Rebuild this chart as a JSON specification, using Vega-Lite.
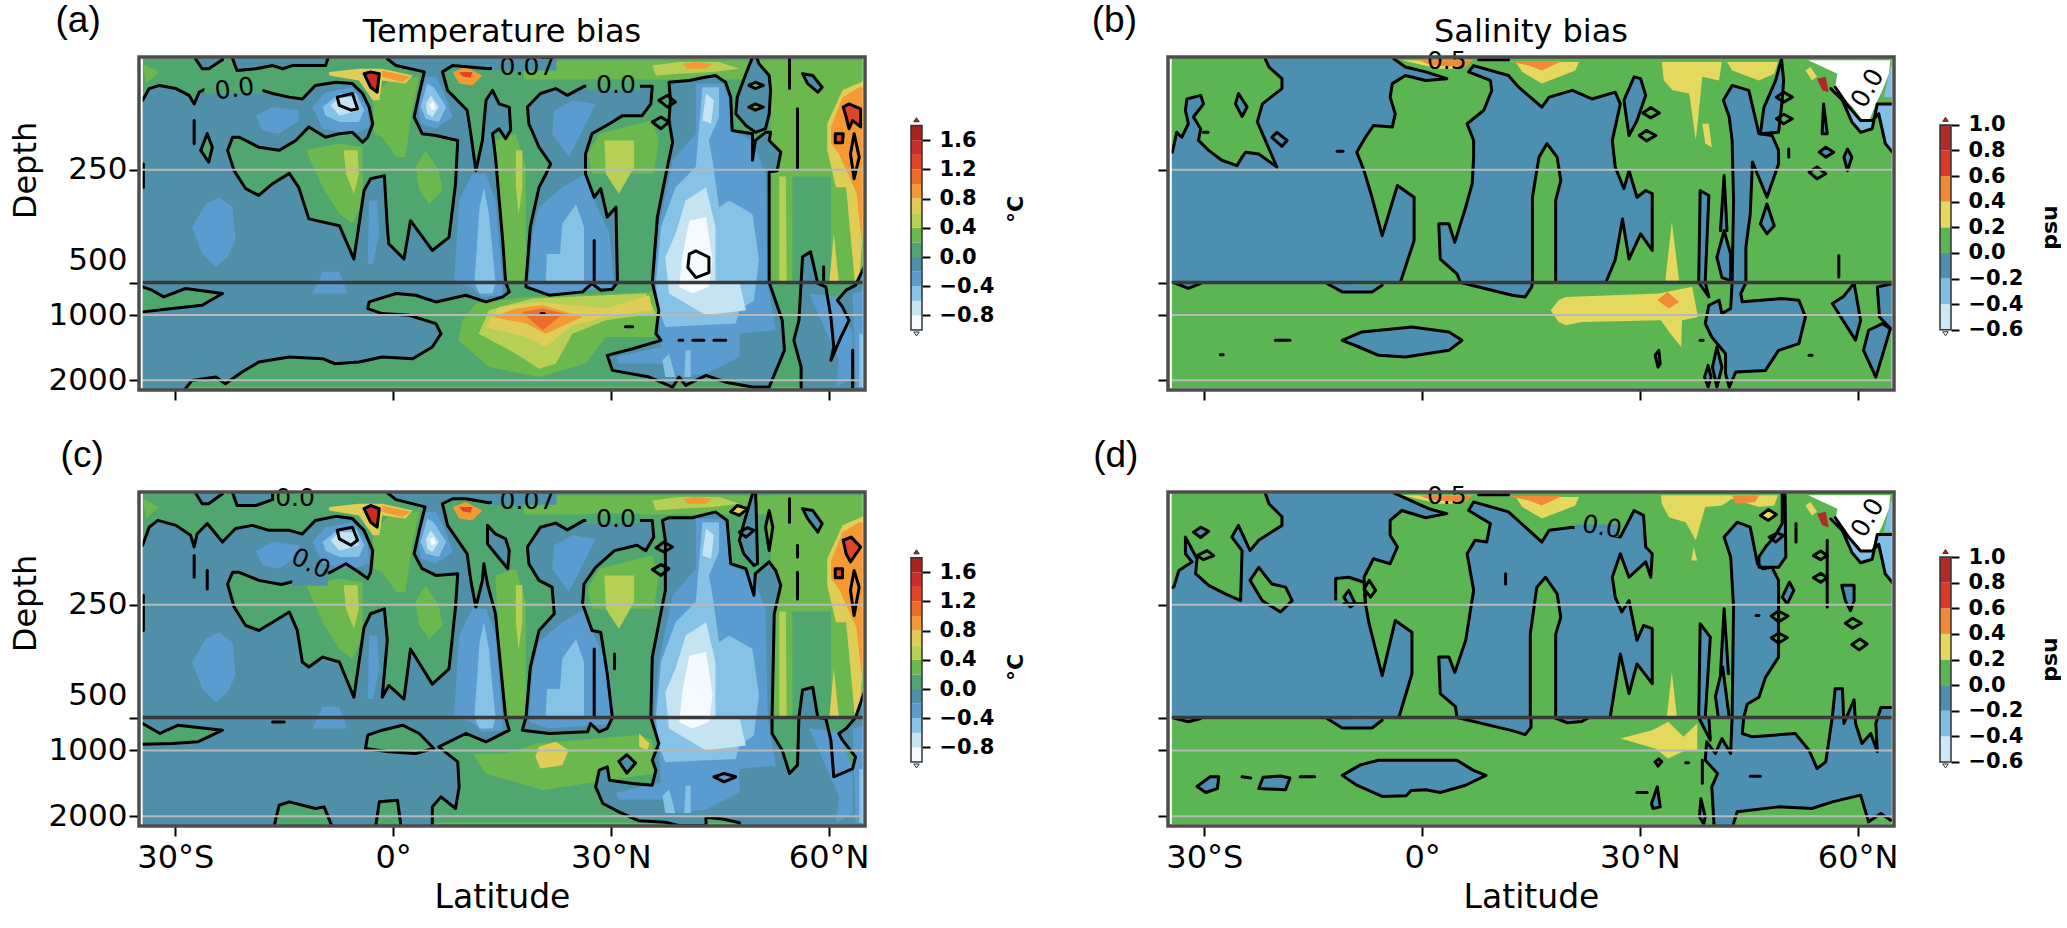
{"$schema":"https://vega.github.io/schema/vega-lite/v6.json","padding":{"left":9,"top":2,"right":0,"bottom":0},"background":"white","config":{"view":{"stroke":null},"font":"DejaVu Sans"},
"datasets":{
"bt":[{"x":-34.5,"x2":64.7,"y":3,"y2":2125,"v":0.1}],
"bs":[{"x":-34.5,"x2":64.7,"y":3,"y2":2125,"v":0.1},{"x":-34.5,"x2":64.7,"y":3,"y2":500,"v":-0.1}],
"w":[
{"g":1,"v":0.3,"x":-34.5,"y":15},{"g":1,"v":0.3,"x":-32.2,"y":33},{"g":1,"v":0.3,"x":-34,"y":59},
{"g":2,"v":0.3,"x":-2.8,"y":89},{"g":2,"v":0.3,"x":-0.6,"y":52},{"g":2,"v":0.3,"x":3.6,"y":44},{"g":2,"v":0.3,"x":2.7,"y":111},{"g":2,"v":0.3,"x":1.7,"y":222},{"g":2,"v":0.3,"x":0.4,"y":222},{"g":2,"v":0.3,"x":-1.5,"y":178},{"g":2,"v":0.3,"x":-2.6,"y":170},
{"g":3,"v":0.3,"x":-12,"y":207},{"g":3,"v":0.3,"x":-7.4,"y":192},{"g":3,"v":0.3,"x":-4.2,"y":200},{"g":3,"v":0.3,"x":-4.2,"y":318},{"g":3,"v":0.3,"x":-5.6,"y":370},{"g":3,"v":0.3,"x":-7.4,"y":348},{"g":3,"v":0.3,"x":-9.7,"y":289},
{"g":4,"v":0.5,"x":-6.8,"y":207},{"g":4,"v":0.5,"x":-4.9,"y":207},{"g":4,"v":0.5,"x":-4.7,"y":259},{"g":4,"v":0.5,"x":-5.4,"y":303},{"g":4,"v":0.5,"x":-6.5,"y":259},
{"g":5,"v":0.3,"x":3.1,"y":244},{"g":5,"v":0.3,"x":4.5,"y":207},{"g":5,"v":0.3,"x":6.3,"y":252},{"g":5,"v":0.3,"x":6.8,"y":296},{"g":5,"v":0.3,"x":5,"y":326},{"g":5,"v":0.3,"x":3.6,"y":296},
{"g":6,"v":0.7,"x":-8.8,"y":33},{"g":6,"v":0.7,"x":-4.7,"y":26},{"g":6,"v":0.7,"x":-1.5,"y":26},{"g":6,"v":0.7,"x":2.7,"y":41},{"g":6,"v":0.7,"x":1.7,"y":59},{"g":6,"v":0.7,"x":-1.5,"y":52},{"g":6,"v":0.7,"x":-1.9,"y":96},{"g":6,"v":0.7,"x":-2.8,"y":96},{"g":6,"v":0.7,"x":-4.7,"y":52},{"g":6,"v":0.7,"x":-8.8,"y":41},
{"g":7,"v":0.9,"x":-1.5,"y":30},{"g":7,"v":0.9,"x":2.4,"y":44},{"g":7,"v":0.9,"x":1.3,"y":56},{"g":7,"v":0.9,"x":-1.5,"y":44},
{"g":8,"v":0.9,"x":8.2,"y":33},{"g":8,"v":0.9,"x":10,"y":22},{"g":8,"v":0.9,"x":12.3,"y":41},{"g":8,"v":0.9,"x":10.9,"y":63},{"g":8,"v":0.9,"x":9.1,"y":59},
{"g":9,"v":1.3,"x":9.1,"y":33},{"g":9,"v":1.3,"x":10.9,"y":33},{"g":9,"v":1.3,"x":10.7,"y":46},{"g":9,"v":1.3,"x":9.6,"y":43},
{"g":10,"v":0.3,"x":14.1,"y":185},{"g":10,"v":0.3,"x":16.9,"y":170},{"g":10,"v":0.3,"x":18.3,"y":244},{"g":10,"v":0.3,"x":18.3,"y":499},{"g":10,"v":0.3,"x":15,"y":499},
{"g":11,"v":0.5,"x":16.9,"y":207},{"g":11,"v":0.5,"x":17.8,"y":207},{"g":11,"v":0.5,"x":17.8,"y":289},{"g":11,"v":0.5,"x":17.3,"y":348},{"g":11,"v":0.5,"x":16.9,"y":289},
{"g":12,"v":0.3,"x":26.8,"y":215},{"g":12,"v":0.3,"x":28.4,"y":170},{"g":12,"v":0.3,"x":35.7,"y":140},{"g":12,"v":0.3,"x":36.6,"y":185},{"g":12,"v":0.3,"x":35.9,"y":259},{"g":12,"v":0.3,"x":27.4,"y":259},
{"g":13,"v":0.5,"x":29.1,"y":185},{"g":13,"v":0.5,"x":33.2,"y":185},{"g":13,"v":0.5,"x":33.2,"y":244},{"g":13,"v":0.5,"x":31.1,"y":303},{"g":13,"v":0.5,"x":29.3,"y":259},
{"g":14,"v":0.3,"x":18,"y":8},{"g":14,"v":0.3,"x":65,"y":8},{"g":14,"v":0.3,"x":65,"y":50},{"g":14,"v":0.3,"x":18,"y":50},
{"g":15,"v":0.5,"x":35.7,"y":19},{"g":15,"v":0.5,"x":39.4,"y":11},{"g":15,"v":0.5,"x":44.9,"y":11},{"g":15,"v":0.5,"x":47.7,"y":26},{"g":15,"v":0.5,"x":44,"y":33},{"g":15,"v":0.5,"x":39.4,"y":37},{"g":15,"v":0.5,"x":36.2,"y":41},
{"g":16,"v":0.9,"x":39.9,"y":15},{"g":16,"v":0.9,"x":41.7,"y":11},{"g":16,"v":0.9,"x":44,"y":15},{"g":16,"v":0.9,"x":43.1,"y":26},{"g":16,"v":0.9,"x":40.6,"y":26},
{"g":17,"v":0.3,"x":52,"y":8},{"g":17,"v":0.3,"x":65,"y":8},{"g":17,"v":0.3,"x":65,"y":499},{"g":17,"v":0.3,"x":52,"y":499},
{"g":18,"v":0.1,"x":55,"y":265},{"g":18,"v":0.1,"x":60.3,"y":265},{"g":18,"v":0.1,"x":60.3,"y":499},{"g":18,"v":0.1,"x":55,"y":499},
{"g":19,"v":0.5,"x":53.2,"y":265},{"g":19,"v":0.5,"x":54.1,"y":265},{"g":19,"v":0.5,"x":54.2,"y":499},{"g":19,"v":0.5,"x":53.2,"y":499},
{"g":20,"v":0.7,"x":60.7,"y":392},{"g":20,"v":0.7,"x":61.4,"y":499},{"g":20,"v":0.7,"x":60.1,"y":499},
{"g":21,"v":0.7,"x":59.8,"y":148},{"g":21,"v":0.7,"x":61.9,"y":74},{"g":21,"v":0.7,"x":65,"y":52},{"g":21,"v":0.7,"x":65,"y":318},{"g":21,"v":0.7,"x":64.2,"y":499},{"g":21,"v":0.7,"x":63.6,"y":499},{"g":21,"v":0.7,"x":62.4,"y":289},{"g":21,"v":0.7,"x":61,"y":289},{"g":21,"v":0.7,"x":59.8,"y":207},
{"g":22,"v":0.9,"x":60.3,"y":155},{"g":22,"v":0.9,"x":61.9,"y":89},{"g":22,"v":0.9,"x":64.2,"y":67},{"g":22,"v":0.9,"x":65,"y":67},{"g":22,"v":0.9,"x":65,"y":244},{"g":22,"v":0.9,"x":64.6,"y":414},{"g":22,"v":0.9,"x":63.8,"y":300},{"g":22,"v":0.9,"x":61.4,"y":215},{"g":22,"v":0.9,"x":60.3,"y":192},
{"g":23,"v":0.3,"x":-35,"y":2100},{"g":23,"v":0.3,"x":65,"y":2100},{"g":23,"v":0.3,"x":65,"y":2140},{"g":23,"v":0.3,"x":-35,"y":2140}
],
"ua":[
{"g":1,"v":0.3,"x":9.5,"y":1080},{"g":1,"v":0.3,"x":11.4,"y":823},{"g":1,"v":0.3,"x":18.3,"y":721},{"g":1,"v":0.3,"x":35.7,"y":644},{"g":1,"v":0.3,"x":36.6,"y":977},{"g":1,"v":0.3,"x":35.9,"y":1336},{"g":1,"v":0.3,"x":29.3,"y":1336},{"g":1,"v":0.3,"x":26.5,"y":1747},{"g":1,"v":0.3,"x":20.1,"y":1952},{"g":1,"v":0.3,"x":13.2,"y":1798},{"g":1,"v":0.3,"x":9,"y":1388},
{"g":2,"v":0.5,"x":11.8,"y":1285},{"g":2,"v":0.5,"x":13.2,"y":926},{"g":2,"v":0.5,"x":19.2,"y":746},{"g":2,"v":0.5,"x":34.8,"y":669},{"g":2,"v":0.5,"x":36.2,"y":977},{"g":2,"v":0.5,"x":29.3,"y":1080},{"g":2,"v":0.5,"x":24.7,"y":1285},{"g":2,"v":0.5,"x":22.4,"y":1747},{"g":2,"v":0.5,"x":20.1,"y":1824},{"g":2,"v":0.5,"x":16.9,"y":1593},
{"g":3,"v":0.7,"x":12.7,"y":1182},{"g":3,"v":0.7,"x":14.6,"y":875},{"g":3,"v":0.7,"x":20.1,"y":798},{"g":3,"v":0.7,"x":29.3,"y":900},{"g":3,"v":0.7,"x":35.3,"y":695},{"g":3,"v":0.7,"x":35.7,"y":926},{"g":3,"v":0.7,"x":29.3,"y":1028},{"g":3,"v":0.7,"x":24.7,"y":1157},{"g":3,"v":0.7,"x":21,"y":1490},{"g":3,"v":0.7,"x":18.3,"y":1336},
{"g":4,"v":0.9,"x":13.7,"y":1028},{"g":4,"v":0.9,"x":16.9,"y":900},{"g":4,"v":0.9,"x":20.6,"y":849},{"g":4,"v":0.9,"x":26.1,"y":1028},{"g":4,"v":0.9,"x":21,"y":1285},{"g":4,"v":0.9,"x":18.3,"y":1131},
{"g":5,"v":1.1,"x":17.8,"y":951},{"g":5,"v":1.1,"x":20.6,"y":900},{"g":5,"v":1.1,"x":23.5,"y":977},{"g":5,"v":1.1,"x":20.6,"y":1233},{"g":5,"v":1.1,"x":19,"y":1080}
],
"uc":[
{"g":1,"v":0.3,"x":15.5,"y":1047},{"g":1,"v":0.3,"x":19.6,"y":895},{"g":1,"v":0.3,"x":33.9,"y":768},{"g":1,"v":0.3,"x":35.7,"y":844},{"g":1,"v":0.3,"x":35.9,"y":1352},{"g":1,"v":0.3,"x":29.8,"y":1453},{"g":1,"v":0.3,"x":26.5,"y":1504},{"g":1,"v":0.3,"x":20.6,"y":1605},{"g":1,"v":0.3,"x":12.7,"y":1352},{"g":1,"v":0.3,"x":11,"y":1047},
{"g":2,"v":0.7,"x":20.1,"y":946},{"g":2,"v":0.7,"x":22.4,"y":870},{"g":2,"v":0.7,"x":24.2,"y":997},{"g":2,"v":0.7,"x":23.3,"y":1225},{"g":2,"v":0.7,"x":20.3,"y":1276},{"g":2,"v":0.7,"x":19.6,"y":1098},
{"g":3,"v":0.7,"x":33.9,"y":743},{"g":3,"v":0.7,"x":35.3,"y":895},{"g":3,"v":0.7,"x":35,"y":997},{"g":3,"v":0.7,"x":33.9,"y":946}
],
"ta":[
{"g":1,"v":-0.1,"x":-37,"y":96},{"g":1,"v":-0.1,"x":-34.5,"y":96},{"g":1,"v":-0.1,"x":-33.6,"y":70},{"g":1,"v":-0.1,"x":-32.2,"y":63},{"g":1,"v":-0.1,"x":-29.9,"y":70},{"g":1,"v":-0.1,"x":-28.1,"y":85},{"g":1,"v":-0.1,"x":-27.4,"y":104},{"g":1,"v":-0.1,"x":-26.7,"y":78},{"g":1,"v":-0.1,"x":-25.4,"y":67},{"g":1,"v":-0.1,"x":-18,"y":74},{"g":1,"v":-0.1,"x":-16.6,"y":81},{"g":1,"v":-0.1,"x":-14.3,"y":89},{"g":1,"v":-0.1,"x":-12.5,"y":93},{"g":1,"v":-0.1,"x":-10.7,"y":63},{"g":1,"v":-0.1,"x":-7.9,"y":56},{"g":1,"v":-0.1,"x":-5.6,"y":59},{"g":1,"v":-0.1,"x":-4.2,"y":81},{"g":1,"v":-0.1,"x":-3.3,"y":111},{"g":1,"v":-0.1,"x":-2.8,"y":148},{"g":1,"v":-0.1,"x":-3.5,"y":178},{"g":1,"v":-0.1,"x":-4.2,"y":189},{"g":1,"v":-0.1,"x":-5.6,"y":167},{"g":1,"v":-0.1,"x":-7.4,"y":170},{"g":1,"v":-0.1,"x":-9.3,"y":178},{"g":1,"v":-0.1,"x":-11.6,"y":155},{"g":1,"v":-0.1,"x":-13.4,"y":185},{"g":1,"v":-0.1,"x":-15.7,"y":207},{"g":1,"v":-0.1,"x":-18.5,"y":200},{"g":1,"v":-0.1,"x":-21.2,"y":178},{"g":1,"v":-0.1,"x":-22.1,"y":178},{"g":1,"v":-0.1,"x":-22.8,"y":207},{"g":1,"v":-0.1,"x":-21.9,"y":252},{"g":1,"v":-0.1,"x":-20.3,"y":292},{"g":1,"v":-0.1,"x":-18.5,"y":307},{"g":1,"v":-0.1,"x":-16.6,"y":281},{"g":1,"v":-0.1,"x":-14.3,"y":258},{"g":1,"v":-0.1,"x":-13,"y":289},{"g":1,"v":-0.1,"x":-11.6,"y":359},{"g":1,"v":-0.1,"x":-7.4,"y":374},{"g":1,"v":-0.1,"x":-5.4,"y":448},{"g":1,"v":-0.1,"x":-4,"y":296},{"g":1,"v":-0.1,"x":-3.1,"y":270},{"g":1,"v":-0.1,"x":-1.2,"y":263},{"g":1,"v":-0.1,"x":-0.8,"y":377},{"g":1,"v":-0.1,"x":-0.6,"y":414},{"g":1,"v":-0.1,"x":1.5,"y":448},{"g":1,"v":-0.1,"x":2.4,"y":363},{"g":1,"v":-0.1,"x":5.4,"y":429},{"g":1,"v":-0.1,"x":7.7,"y":400},{"g":1,"v":-0.1,"x":8.6,"y":281},{"g":1,"v":-0.1,"x":8.9,"y":185},{"g":1,"v":-0.1,"x":5.9,"y":174},{"g":1,"v":-0.1,"x":4,"y":170},{"g":1,"v":-0.1,"x":2.9,"y":133},{"g":1,"v":-0.1,"x":3.6,"y":81},{"g":1,"v":-0.1,"x":4.3,"y":33},{"g":1,"v":-0.1,"x":0.4,"y":19},{"g":1,"v":-0.1,"x":-0.8,"y":4},{"g":1,"v":-0.1,"x":-0.8,"y":-15},{"g":1,"v":-0.1,"x":22,"y":-15},{"g":1,"v":-0.1,"x":22,"y":4},{"g":1,"v":-0.1,"x":13.2,"y":26},{"g":1,"v":-0.1,"x":8.2,"y":19},{"g":1,"v":-0.1,"x":6.8,"y":33},{"g":1,"v":-0.1,"x":7.5,"y":74},{"g":1,"v":-0.1,"x":10.2,"y":118},{"g":1,"v":-0.1,"x":10.7,"y":170},{"g":1,"v":-0.1,"x":11.4,"y":252},{"g":1,"v":-0.1,"x":12.3,"y":185},{"g":1,"v":-0.1,"x":12.8,"y":96},{"g":1,"v":-0.1,"x":13.7,"y":74},{"g":1,"v":-0.1,"x":14.6,"y":104},{"g":1,"v":-0.1,"x":16,"y":111},{"g":1,"v":-0.1,"x":16.2,"y":162},{"g":1,"v":-0.1,"x":15.5,"y":181},{"g":1,"v":-0.1,"x":14.6,"y":159},{"g":1,"v":-0.1,"x":13.7,"y":170},{"g":1,"v":-0.1,"x":14.1,"y":222},{"g":1,"v":-0.1,"x":15.1,"y":407},{"g":1,"v":-0.1,"x":15.5,"y":499},{"g":1,"v":-0.1,"x":16,"y":644},{"g":1,"v":-0.1,"x":15.1,"y":721},{"g":1,"v":-0.1,"x":12.8,"y":798},{"g":1,"v":-0.1,"x":10,"y":695},{"g":1,"v":-0.1,"x":5.9,"y":798},{"g":1,"v":-0.1,"x":3.1,"y":695},{"g":1,"v":-0.1,"x":0.4,"y":669},{"g":1,"v":-0.1,"x":-3.3,"y":798},{"g":1,"v":-0.1,"x":-3.5,"y":900},{"g":1,"v":-0.1,"x":-1.5,"y":977},{"g":1,"v":-0.1,"x":2.2,"y":1003},{"g":1,"v":-0.1,"x":5.9,"y":1131},{"g":1,"v":-0.1,"x":6.6,"y":1285},{"g":1,"v":-0.1,"x":5.4,"y":1490},{"g":1,"v":-0.1,"x":2.7,"y":1670},{"g":1,"v":-0.1,"x":-1.5,"y":1644},{"g":1,"v":-0.1,"x":-4.7,"y":1721},{"g":1,"v":-0.1,"x":-8,"y":1747},{"g":1,"v":-0.1,"x":-9.7,"y":1670},{"g":1,"v":-0.1,"x":-14.3,"y":1644},{"g":1,"v":-0.1,"x":-18.5,"y":1721},{"g":1,"v":-0.1,"x":-20.8,"y":1875},{"g":1,"v":-0.1,"x":-23.1,"y":2054},{"g":1,"v":-0.1,"x":-24.4,"y":1952},{"g":1,"v":-0.1,"x":-27.7,"y":2003},{"g":1,"v":-0.1,"x":-28.6,"y":2131},{"g":1,"v":-0.1,"x":-28.6,"y":2300},{"g":1,"v":-0.1,"x":-37,"y":2300},
{"g":2,"v":0.1,"x":-37,"y":567},{"g":2,"v":0.1,"x":-34.5,"y":567},{"g":2,"v":0.1,"x":-33.2,"y":618},{"g":2,"v":0.1,"x":-31.6,"y":721},{"g":2,"v":0.1,"x":-28.6,"y":592},{"g":2,"v":0.1,"x":-23.5,"y":669},{"g":2,"v":0.1,"x":-26.3,"y":849},{"g":2,"v":0.1,"x":-30.4,"y":900},{"g":2,"v":0.1,"x":-34.5,"y":951},{"g":2,"v":0.1,"x":-37,"y":951},
{"g":3,"v":-0.1,"x":-27.2,"y":-15},{"g":3,"v":-0.1,"x":-27.2,"y":4},{"g":3,"v":-0.1,"x":-26.3,"y":26},{"g":3,"v":-0.1,"x":-25.4,"y":26},{"g":3,"v":-0.1,"x":-23.5,"y":6},{"g":3,"v":-0.1,"x":-23.5,"y":-15},
{"g":4,"v":-0.1,"x":-22.1,"y":-15},{"g":4,"v":-0.1,"x":-22.1,"y":4},{"g":4,"v":-0.1,"x":-21.5,"y":30},{"g":4,"v":-0.1,"x":-18.9,"y":26},{"g":4,"v":-0.1,"x":-16.6,"y":19},{"g":4,"v":-0.1,"x":-15.2,"y":26},{"g":4,"v":-0.1,"x":-13.9,"y":19},{"g":4,"v":-0.1,"x":-9.3,"y":19},{"g":4,"v":-0.1,"x":-9,"y":4},{"g":4,"v":-0.1,"x":-9,"y":-15},
{"g":5,"v":0.1,"x":-25.6,"y":170},{"g":5,"v":0.1,"x":-26.5,"y":207},{"g":5,"v":0.1,"x":-25.4,"y":233},{"g":5,"v":0.1,"x":-24.9,"y":200},{"g":5,"v":0.1,"x":-25.6,"y":170},
{"g":6,"v":-0.1,"x":-27.4,"y":141},{"g":6,"v":-0.1,"x":-27.4,"y":192},
{"g":7,"v":-0.1,"x":-34.4,"y":237},{"g":7,"v":-0.1,"x":-34.4,"y":289},
{"g":8,"v":1.5,"x":-4,"y":37},{"g":8,"v":1.5,"x":-3.1,"y":33},{"g":8,"v":1.5,"x":-1.9,"y":37},{"g":8,"v":1.5,"x":-2.2,"y":78},{"g":8,"v":1.5,"x":-3.1,"y":67},{"g":8,"v":1.5,"x":-4,"y":37},
{"g":9,"v":-0.1,"x":18.5,"y":111},{"g":9,"v":-0.1,"x":20.3,"y":81},{"g":9,"v":-0.1,"x":22.4,"y":70},{"g":9,"v":-0.1,"x":24,"y":85},{"g":9,"v":-0.1,"x":26.3,"y":65},{"g":9,"v":-0.1,"x":30.2,"y":65},{"g":9,"v":-0.1,"x":35.7,"y":65},{"g":9,"v":-0.1,"x":35.5,"y":104},{"g":9,"v":-0.1,"x":34.3,"y":130},{"g":9,"v":-0.1,"x":31.6,"y":130},{"g":9,"v":-0.1,"x":29.8,"y":148},{"g":9,"v":-0.1,"x":27.4,"y":170},{"g":9,"v":-0.1,"x":26.5,"y":215},{"g":9,"v":-0.1,"x":26.5,"y":259},{"g":9,"v":-0.1,"x":27.7,"y":311},{"g":9,"v":-0.1,"x":28.6,"y":292},{"g":9,"v":-0.1,"x":29.5,"y":355},{"g":9,"v":-0.1,"x":30.7,"y":333},{"g":9,"v":-0.1,"x":30.9,"y":499},{"g":9,"v":-0.1,"x":30.2,"y":603},{"g":9,"v":-0.1,"x":28.6,"y":618},{"g":9,"v":-0.1,"x":27.4,"y":515},{"g":9,"v":-0.1,"x":26.1,"y":644},{"g":9,"v":-0.1,"x":21.5,"y":695},{"g":9,"v":-0.1,"x":18.3,"y":567},{"g":9,"v":-0.1,"x":18.3,"y":499},{"g":9,"v":-0.1,"x":18.9,"y":377},{"g":9,"v":-0.1,"x":20.1,"y":289},{"g":9,"v":-0.1,"x":21.2,"y":255},{"g":9,"v":-0.1,"x":21.7,"y":237},{"g":9,"v":-0.1,"x":20.1,"y":200},{"g":9,"v":-0.1,"x":18.7,"y":148},{"g":9,"v":-0.1,"x":18.5,"y":111},
{"g":10,"v":-0.1,"x":27.7,"y":407},{"g":10,"v":-0.1,"x":27.7,"y":499},
{"g":11,"v":-0.1,"x":38,"y":56},{"g":11,"v":-0.1,"x":40.8,"y":52},{"g":11,"v":-0.1,"x":42.6,"y":46},{"g":11,"v":-0.1,"x":44.4,"y":41},{"g":11,"v":-0.1,"x":45.8,"y":56},{"g":11,"v":-0.1,"x":46.5,"y":89},{"g":11,"v":-0.1,"x":46.7,"y":163},{"g":11,"v":-0.1,"x":49.5,"y":170},{"g":11,"v":-0.1,"x":49.5,"y":229},{"g":11,"v":-0.1,"x":49.9,"y":185},{"g":11,"v":-0.1,"x":51.3,"y":167},{"g":11,"v":-0.1,"x":52,"y":167},{"g":11,"v":-0.1,"x":51.8,"y":185},{"g":11,"v":-0.1,"x":53.4,"y":211},{"g":11,"v":-0.1,"x":52.9,"y":252},{"g":11,"v":-0.1,"x":51.8,"y":255},{"g":11,"v":-0.1,"x":51.8,"y":392},{"g":11,"v":-0.1,"x":51.8,"y":500},{"g":11,"v":-0.1,"x":53.6,"y":1081},{"g":11,"v":-0.1,"x":53.9,"y":1541},{"g":11,"v":-0.1,"x":51.8,"y":2105},{"g":11,"v":-0.1,"x":49.5,"y":2105},{"g":11,"v":-0.1,"x":45.8,"y":2030},{"g":11,"v":-0.1,"x":43.1,"y":1926},{"g":11,"v":-0.1,"x":40.3,"y":2080},{"g":11,"v":-0.1,"x":39.4,"y":1952},{"g":11,"v":-0.1,"x":38.5,"y":2105},{"g":11,"v":-0.1,"x":35.3,"y":1952},{"g":11,"v":-0.1,"x":30.2,"y":1849},{"g":11,"v":-0.1,"x":29.5,"y":1618},{"g":11,"v":-0.1,"x":33,"y":1516},{"g":11,"v":-0.1,"x":36.9,"y":1388},{"g":11,"v":-0.1,"x":36.2,"y":1285},{"g":11,"v":-0.1,"x":36.6,"y":926},{"g":11,"v":-0.1,"x":35.7,"y":500},{"g":11,"v":-0.1,"x":36.4,"y":355},{"g":11,"v":-0.1,"x":37.5,"y":266},{"g":11,"v":-0.1,"x":38.5,"y":189},{"g":11,"v":-0.1,"x":38,"y":140},{"g":11,"v":-0.1,"x":38.2,"y":96},{"g":11,"v":-0.1,"x":38,"y":56},
{"g":12,"v":-0.1,"x":49.7,"y":-7},{"g":12,"v":-0.1,"x":48.6,"y":37},{"g":12,"v":-0.1,"x":47.4,"y":89},{"g":12,"v":-0.1,"x":47.2,"y":126},{"g":12,"v":-0.1,"x":48.6,"y":152},{"g":12,"v":-0.1,"x":49.9,"y":167},{"g":12,"v":-0.1,"x":51.3,"y":159},{"g":12,"v":-0.1,"x":51.8,"y":126},{"g":12,"v":-0.1,"x":52,"y":74},{"g":12,"v":-0.1,"x":51.8,"y":41},{"g":12,"v":-0.1,"x":50.4,"y":15},{"g":12,"v":-0.1,"x":49.9,"y":-7},
{"g":13,"v":0.3,"x":49,"y":63},{"g":13,"v":0.3,"x":49.9,"y":56},{"g":13,"v":0.3,"x":51,"y":63},{"g":13,"v":0.3,"x":49.9,"y":70},{"g":13,"v":0.3,"x":49,"y":63},
{"g":14,"v":0.3,"x":49,"y":111},{"g":14,"v":0.3,"x":49.9,"y":104},{"g":14,"v":0.3,"x":51,"y":111},{"g":14,"v":0.3,"x":49.9,"y":118},{"g":14,"v":0.3,"x":49,"y":111},
{"g":15,"v":0.3,"x":54.6,"y":4},{"g":15,"v":0.3,"x":54.6,"y":70},
{"g":16,"v":0.3,"x":55.7,"y":115},{"g":16,"v":0.3,"x":55.7,"y":248},
{"g":17,"v":-0.1,"x":56.4,"y":37},{"g":17,"v":-0.1,"x":57.8,"y":41},{"g":17,"v":-0.1,"x":59.1,"y":67},{"g":17,"v":-0.1,"x":58.5,"y":78},{"g":17,"v":-0.1,"x":57.1,"y":59},{"g":17,"v":-0.1,"x":56.4,"y":37},
{"g":18,"v":0.1,"x":36.6,"y":96},{"g":18,"v":0.1,"x":37.8,"y":85},{"g":18,"v":0.1,"x":38.9,"y":100},{"g":18,"v":0.1,"x":37.8,"y":111},{"g":18,"v":0.1,"x":36.6,"y":96},
{"g":19,"v":0.1,"x":35.7,"y":144},{"g":19,"v":0.1,"x":36.9,"y":133},{"g":19,"v":0.1,"x":38,"y":144},{"g":19,"v":0.1,"x":36.9,"y":159},{"g":19,"v":0.1,"x":35.7,"y":144},
{"g":20,"v":-0.1,"x":56.2,"y":2180},{"g":20,"v":-0.1,"x":56.2,"y":1798},{"g":20,"v":-0.1,"x":55.2,"y":1388},{"g":20,"v":-0.1,"x":55.9,"y":1080},{"g":20,"v":-0.1,"x":56.2,"y":499},{"g":20,"v":-0.1,"x":56.4,"y":443},{"g":20,"v":-0.1,"x":57.5,"y":432},{"g":20,"v":-0.1,"x":58.5,"y":515},{"g":20,"v":-0.1,"x":59.6,"y":567},{"g":20,"v":-0.1,"x":60.3,"y":1028},{"g":20,"v":-0.1,"x":60.7,"y":1490},{"g":20,"v":-0.1,"x":60.3,"y":1695},{"g":20,"v":-0.1,"x":61.7,"y":1336},{"g":20,"v":-0.1,"x":62.8,"y":1080},{"g":20,"v":-0.1,"x":61.9,"y":875},{"g":20,"v":-0.1,"x":61.2,"y":772},{"g":20,"v":-0.1,"x":62.4,"y":618},{"g":20,"v":-0.1,"x":63.7,"y":541},{"g":20,"v":-0.1,"x":64.9,"y":465},{"g":20,"v":-0.1,"x":65.8,"y":465},{"g":20,"v":-0.1,"x":65.8,"y":2180},
{"g":21,"v":0.1,"x":59.3,"y":465},{"g":21,"v":0.1,"x":59.3,"y":500},
{"g":22,"v":-0.3,"x":63.3,"y":1541},{"g":22,"v":-0.3,"x":63.3,"y":2105},
{"g":23,"v":1.3,"x":62,"y":111},{"g":23,"v":1.3,"x":62.8,"y":104},{"g":23,"v":1.3,"x":64.4,"y":115},{"g":23,"v":1.3,"x":64.4,"y":155},{"g":23,"v":1.3,"x":63.3,"y":141},{"g":23,"v":1.3,"x":62.8,"y":159},{"g":23,"v":1.3,"x":62.4,"y":133},{"g":23,"v":1.3,"x":62,"y":111},
{"g":24,"v":0.9,"x":63.5,"y":170},{"g":24,"v":0.9,"x":63,"y":215},{"g":24,"v":0.9,"x":63.5,"y":270},{"g":24,"v":0.9,"x":64.2,"y":222},{"g":24,"v":0.9,"x":63.5,"y":170},
{"g":25,"v":1.3,"x":60.9,"y":170},{"g":25,"v":1.3,"x":62,"y":170},{"g":25,"v":1.3,"x":61.9,"y":190},{"g":25,"v":1.3,"x":60.9,"y":190},{"g":25,"v":1.3,"x":60.9,"y":170},
{"g":26,"v":0.1,"x":39.4,"y":1385},{"g":26,"v":0.1,"x":39.9,"y":1385},
{"g":27,"v":0.1,"x":41.3,"y":1385},{"g":27,"v":0.1,"x":42.8,"y":1385},
{"g":28,"v":0.1,"x":44.2,"y":1385},{"g":28,"v":0.1,"x":45.8,"y":1385},
{"g":29,"v":1.1,"x":20.4,"y":977},{"g":29,"v":1.1,"x":20.8,"y":977},
{"g":30,"v":0.1,"x":32,"y":1180},{"g":30,"v":0.1,"x":33,"y":1180},
{"g":31,"v":-0.9,"x":-7.7,"y":89},{"g":31,"v":-0.9,"x":-5.6,"y":81},{"g":31,"v":-0.9,"x":-4.9,"y":115},{"g":31,"v":-0.9,"x":-5.8,"y":118},{"g":31,"v":-0.9,"x":-7.4,"y":107},{"g":31,"v":-0.9,"x":-7.7,"y":89},
{"g":32,"v":-0.9,"x":40.8,"y":437},{"g":32,"v":-0.9,"x":41.7,"y":430},{"g":32,"v":-0.9,"x":43.5,"y":444},{"g":32,"v":-0.9,"x":43.5,"y":478},{"g":32,"v":-0.9,"x":41.7,"y":489},{"g":32,"v":-0.9,"x":40.6,"y":467},{"g":32,"v":-0.9,"x":40.8,"y":437}
],
"tc":[
{"g":1,"v":-0.1,"x":-37,"y":118},{"g":1,"v":-0.1,"x":-34.5,"y":118},{"g":1,"v":-0.1,"x":-33.6,"y":78},{"g":1,"v":-0.1,"x":-32.4,"y":63},{"g":1,"v":-0.1,"x":-29.9,"y":74},{"g":1,"v":-0.1,"x":-27.9,"y":96},{"g":1,"v":-0.1,"x":-27.4,"y":122},{"g":1,"v":-0.1,"x":-27,"y":93},{"g":1,"v":-0.1,"x":-25.6,"y":70},{"g":1,"v":-0.1,"x":-23.5,"y":111},{"g":1,"v":-0.1,"x":-21.7,"y":81},{"g":1,"v":-0.1,"x":-19.4,"y":74},{"g":1,"v":-0.1,"x":-17.1,"y":85},{"g":1,"v":-0.1,"x":-14.3,"y":85},{"g":1,"v":-0.1,"x":-12.5,"y":93},{"g":1,"v":-0.1,"x":-10.7,"y":63},{"g":1,"v":-0.1,"x":-7.9,"y":54},{"g":1,"v":-0.1,"x":-5.6,"y":59},{"g":1,"v":-0.1,"x":-4,"y":85},{"g":1,"v":-0.1,"x":-2.8,"y":130},{"g":1,"v":-0.1,"x":-3.1,"y":178},{"g":1,"v":-0.1,"x":-3.5,"y":192},{"g":1,"v":-0.1,"x":-4.7,"y":178},{"g":1,"v":-0.1,"x":-6.5,"y":159},{"g":1,"v":-0.1,"x":-8.6,"y":178},{"g":1,"v":-0.1,"x":-15.4,"y":205},{"g":1,"v":-0.1,"x":-18.5,"y":196},{"g":1,"v":-0.1,"x":-21.2,"y":178},{"g":1,"v":-0.1,"x":-22.1,"y":178},{"g":1,"v":-0.1,"x":-22.8,"y":204},{"g":1,"v":-0.1,"x":-21.9,"y":255},{"g":1,"v":-0.1,"x":-20.3,"y":296},{"g":1,"v":-0.1,"x":-18.5,"y":307},{"g":1,"v":-0.1,"x":-16.2,"y":285},{"g":1,"v":-0.1,"x":-14.3,"y":266},{"g":1,"v":-0.1,"x":-13.2,"y":307},{"g":1,"v":-0.1,"x":-12.5,"y":377},{"g":1,"v":-0.1,"x":-11.6,"y":388},{"g":1,"v":-0.1,"x":-9.7,"y":366},{"g":1,"v":-0.1,"x":-7.4,"y":377},{"g":1,"v":-0.1,"x":-5.4,"y":455},{"g":1,"v":-0.1,"x":-4,"y":300},{"g":1,"v":-0.1,"x":-3.1,"y":270},{"g":1,"v":-0.1,"x":-1.2,"y":259},{"g":1,"v":-0.1,"x":-0.8,"y":329},{"g":1,"v":-0.1,"x":-1.5,"y":455},{"g":1,"v":-0.1,"x":-0.6,"y":429},{"g":1,"v":-0.1,"x":1.5,"y":459},{"g":1,"v":-0.1,"x":2.4,"y":348},{"g":1,"v":-0.1,"x":5.4,"y":426},{"g":1,"v":-0.1,"x":7.7,"y":392},{"g":1,"v":-0.1,"x":8.6,"y":255},{"g":1,"v":-0.1,"x":8.9,"y":181},{"g":1,"v":-0.1,"x":5.9,"y":185},{"g":1,"v":-0.1,"x":4,"y":170},{"g":1,"v":-0.1,"x":2.9,"y":137},{"g":1,"v":-0.1,"x":3.6,"y":85},{"g":1,"v":-0.1,"x":4.4,"y":33},{"g":1,"v":-0.1,"x":0.4,"y":17},{"g":1,"v":-0.1,"x":-0.8,"y":2},{"g":1,"v":-0.1,"x":-0.8,"y":-15},{"g":1,"v":-0.1,"x":22,"y":-15},{"g":1,"v":-0.1,"x":22,"y":4},{"g":1,"v":-0.1,"x":13.2,"y":24},{"g":1,"v":-0.1,"x":10,"y":15},{"g":1,"v":-0.1,"x":8.2,"y":15},{"g":1,"v":-0.1,"x":6.8,"y":26},{"g":1,"v":-0.1,"x":7.5,"y":74},{"g":1,"v":-0.1,"x":10.2,"y":137},{"g":1,"v":-0.1,"x":10.7,"y":196},{"g":1,"v":-0.1,"x":11.4,"y":255},{"g":1,"v":-0.1,"x":12.3,"y":196},{"g":1,"v":-0.1,"x":12.5,"y":159},{"g":1,"v":-0.1,"x":13,"y":204},{"g":1,"v":-0.1,"x":14.1,"y":270},{"g":1,"v":-0.1,"x":15.5,"y":500},{"g":1,"v":-0.1,"x":16,"y":693},{"g":1,"v":-0.1,"x":12.8,"y":870},{"g":1,"v":-0.1,"x":10,"y":743},{"g":1,"v":-0.1,"x":6.3,"y":946},{"g":1,"v":-0.1,"x":8.9,"y":1174},{"g":1,"v":-0.1,"x":9.1,"y":1554},{"g":1,"v":-0.1,"x":8.6,"y":1884},{"g":1,"v":-0.1,"x":6.6,"y":1706},{"g":1,"v":-0.1,"x":5.4,"y":1859},{"g":1,"v":-0.1,"x":5.4,"y":2163},{"g":1,"v":-0.1,"x":5.4,"y":2300},{"g":1,"v":-0.1,"x":-37,"y":2300},
{"g":2,"v":0.1,"x":-3.8,"y":971},{"g":2,"v":0.1,"x":-3.5,"y":769},{"g":2,"v":0.1,"x":-1.5,"y":693},{"g":2,"v":0.1,"x":1.3,"y":617},{"g":2,"v":0.1,"x":3.6,"y":743},{"g":2,"v":0.1,"x":5.6,"y":971},{"g":2,"v":0.1,"x":3.1,"y":1047},{"g":2,"v":0.1,"x":-0.6,"y":1022},{"g":2,"v":0.1,"x":-3.8,"y":971},
{"g":3,"v":0.1,"x":-37,"y":591},{"g":3,"v":0.1,"x":-34.5,"y":591},{"g":3,"v":0.1,"x":-32.1,"y":743},{"g":3,"v":0.1,"x":-29.6,"y":617},{"g":3,"v":0.1,"x":-23.5,"y":693},{"g":3,"v":0.1,"x":-26.9,"y":870},{"g":3,"v":0.1,"x":-30.4,"y":896},{"g":3,"v":0.1,"x":-34.5,"y":907},{"g":3,"v":0.1,"x":-37,"y":907},
{"g":4,"v":0.1,"x":-16.4,"y":2300},{"g":4,"v":0.1,"x":-16.4,"y":2160},{"g":4,"v":0.1,"x":-15.7,"y":1834},{"g":4,"v":0.1,"x":-14.3,"y":1783},{"g":4,"v":0.1,"x":-10.7,"y":1884},{"g":4,"v":0.1,"x":-9.5,"y":1859},{"g":4,"v":0.1,"x":-8.4,"y":2160},{"g":4,"v":0.1,"x":-8.4,"y":2300},
{"g":5,"v":0.1,"x":-2.4,"y":2300},{"g":5,"v":0.1,"x":-2.4,"y":2160},{"g":5,"v":0.1,"x":-1.9,"y":1783},{"g":5,"v":0.1,"x":0.6,"y":1757},{"g":5,"v":0.1,"x":1.1,"y":2160},{"g":5,"v":0.1,"x":1.1,"y":2300},
{"g":6,"v":-0.1,"x":-27.2,"y":-15},{"g":6,"v":-0.1,"x":-27.2,"y":2},{"g":6,"v":-0.1,"x":-26.3,"y":26},{"g":6,"v":-0.1,"x":-25.4,"y":26},{"g":6,"v":-0.1,"x":-23.5,"y":4},{"g":6,"v":-0.1,"x":-23.5,"y":-15},
{"g":7,"v":-0.1,"x":-22.1,"y":-15},{"g":7,"v":-0.1,"x":-22.1,"y":2},{"g":7,"v":-0.1,"x":-21.5,"y":30},{"g":7,"v":-0.1,"x":-18.9,"y":30},{"g":7,"v":-0.1,"x":-16.6,"y":17},{"g":7,"v":-0.1,"x":-16.6,"y":-15},
{"g":8,"v":-0.1,"x":13,"y":74},{"g":8,"v":-0.1,"x":14.1,"y":93},{"g":8,"v":-0.1,"x":15.5,"y":104},{"g":8,"v":-0.1,"x":16,"y":130},{"g":8,"v":-0.1,"x":15.8,"y":170},{"g":8,"v":-0.1,"x":14.1,"y":137},{"g":8,"v":-0.1,"x":13,"y":115},{"g":8,"v":-0.1,"x":13,"y":74},
{"g":9,"v":-0.1,"x":-27.4,"y":141},{"g":9,"v":-0.1,"x":-27.4,"y":189},
{"g":10,"v":-0.1,"x":-25.6,"y":174},{"g":10,"v":-0.1,"x":-25.6,"y":215},
{"g":11,"v":-0.1,"x":-34.4,"y":229},{"g":11,"v":-0.1,"x":-34.4,"y":307},
{"g":12,"v":-0.1,"x":-16.6,"y":570},{"g":12,"v":-0.1,"x":-15,"y":570},
{"g":13,"v":1.5,"x":-4,"y":37},{"g":13,"v":1.5,"x":-3.1,"y":30},{"g":13,"v":1.5,"x":-1.9,"y":37},{"g":13,"v":1.5,"x":-2.2,"y":78},{"g":13,"v":1.5,"x":-3.1,"y":67},{"g":13,"v":1.5,"x":-4,"y":37},
{"g":14,"v":-0.1,"x":18.5,"y":122},{"g":14,"v":-0.1,"x":20.3,"y":78},{"g":14,"v":-0.1,"x":22.4,"y":69},{"g":14,"v":-0.1,"x":24,"y":84},{"g":14,"v":-0.1,"x":26.3,"y":63},{"g":14,"v":-0.1,"x":35.7,"y":63},{"g":14,"v":-0.1,"x":35.9,"y":100},{"g":14,"v":-0.1,"x":34.8,"y":130},{"g":14,"v":-0.1,"x":33.6,"y":118},{"g":14,"v":-0.1,"x":30.5,"y":130},{"g":14,"v":-0.1,"x":27.9,"y":167},{"g":14,"v":-0.1,"x":26.3,"y":204},{"g":14,"v":-0.1,"x":26.1,"y":248},{"g":14,"v":-0.1,"x":27.4,"y":307},{"g":14,"v":-0.1,"x":28.6,"y":311},{"g":14,"v":-0.1,"x":29.5,"y":403},{"g":14,"v":-0.1,"x":30.2,"y":500},{"g":14,"v":-0.1,"x":29.5,"y":667},{"g":14,"v":-0.1,"x":28.4,"y":718},{"g":14,"v":-0.1,"x":27.2,"y":591},{"g":14,"v":-0.1,"x":26.8,"y":718},{"g":14,"v":-0.1,"x":21.5,"y":743},{"g":14,"v":-0.1,"x":17.8,"y":693},{"g":14,"v":-0.1,"x":18.3,"y":500},{"g":14,"v":-0.1,"x":18.9,"y":389},{"g":14,"v":-0.1,"x":20.1,"y":307},{"g":14,"v":-0.1,"x":22.2,"y":270},{"g":14,"v":-0.1,"x":21.9,"y":211},{"g":14,"v":-0.1,"x":20.1,"y":196},{"g":14,"v":-0.1,"x":18.7,"y":159},{"g":14,"v":-0.1,"x":18.5,"y":122},
{"g":15,"v":-0.1,"x":27.7,"y":348},{"g":15,"v":-0.1,"x":27.7,"y":500},
{"g":16,"v":0.1,"x":30.5,"y":359},{"g":16,"v":0.1,"x":30.5,"y":392},
{"g":17,"v":-0.1,"x":37.1,"y":63},{"g":17,"v":-0.1,"x":38,"y":57},{"g":17,"v":-0.1,"x":41.2,"y":57},{"g":17,"v":-0.1,"x":44.4,"y":44},{"g":17,"v":-0.1,"x":46,"y":63},{"g":17,"v":-0.1,"x":46.5,"y":159},{"g":17,"v":-0.1,"x":48.6,"y":170},{"g":17,"v":-0.1,"x":49.7,"y":229},{"g":17,"v":-0.1,"x":49.9,"y":181},{"g":17,"v":-0.1,"x":51.8,"y":155},{"g":17,"v":-0.1,"x":52.7,"y":174},{"g":17,"v":-0.1,"x":53.4,"y":207},{"g":17,"v":-0.1,"x":52.5,"y":270},{"g":17,"v":-0.1,"x":52.2,"y":500},{"g":17,"v":-0.1,"x":52.2,"y":743},{"g":17,"v":-0.1,"x":53.6,"y":997},{"g":17,"v":-0.1,"x":54.6,"y":1352},{"g":17,"v":-0.1,"x":55.7,"y":1224},{"g":17,"v":-0.1,"x":55.9,"y":500},{"g":17,"v":-0.1,"x":56.4,"y":439},{"g":17,"v":-0.1,"x":57.8,"y":433},{"g":17,"v":-0.1,"x":58.5,"y":500},{"g":17,"v":-0.1,"x":59.6,"y":515},{"g":17,"v":-0.1,"x":60.3,"y":844},{"g":17,"v":-0.1,"x":60.7,"y":1402},{"g":17,"v":-0.1,"x":63.3,"y":1276},{"g":17,"v":-0.1,"x":63.7,"y":1098},{"g":17,"v":-0.1,"x":61.9,"y":845},{"g":17,"v":-0.1,"x":61.4,"y":743},{"g":17,"v":-0.1,"x":62.4,"y":667},{"g":17,"v":-0.1,"x":63.7,"y":500},{"g":17,"v":-0.1,"x":64.9,"y":444},{"g":17,"v":-0.1,"x":65.8,"y":444},{"g":17,"v":-0.1,"x":65.8,"y":2220},{"g":17,"v":-0.1,"x":47.7,"y":2220},{"g":17,"v":-0.1,"x":47.7,"y":2100},{"g":17,"v":-0.1,"x":45.4,"y":2044},{"g":17,"v":-0.1,"x":43.1,"y":2018},{"g":17,"v":-0.1,"x":43.1,"y":2145},{"g":17,"v":-0.1,"x":39.4,"y":2145},{"g":17,"v":-0.1,"x":37.5,"y":2094},{"g":17,"v":-0.1,"x":33.8,"y":2069},{"g":17,"v":-0.1,"x":31.1,"y":1935},{"g":17,"v":-0.1,"x":28.9,"y":1808},{"g":17,"v":-0.1,"x":27.9,"y":1554},{"g":17,"v":-0.1,"x":28.4,"y":1301},{"g":17,"v":-0.1,"x":29.5,"y":1250},{"g":17,"v":-0.1,"x":29.8,"y":1453},{"g":17,"v":-0.1,"x":33,"y":1504},{"g":17,"v":-0.1,"x":35.7,"y":1529},{"g":17,"v":-0.1,"x":36.2,"y":1301},{"g":17,"v":-0.1,"x":35.7,"y":1149},{"g":17,"v":-0.1,"x":36.6,"y":895},{"g":17,"v":-0.1,"x":35.5,"y":500},{"g":17,"v":-0.1,"x":35.7,"y":366},{"g":17,"v":-0.1,"x":37.5,"y":218},{"g":17,"v":-0.1,"x":37.5,"y":107},{"g":17,"v":-0.1,"x":37.1,"y":63},
{"g":18,"v":-0.1,"x":31.1,"y":1167},{"g":18,"v":-0.1,"x":32.2,"y":1066},{"g":18,"v":-0.1,"x":33.4,"y":1193},{"g":18,"v":-0.1,"x":32.2,"y":1345},{"g":18,"v":-0.1,"x":31.1,"y":1167},
{"g":19,"v":0.1,"x":44.2,"y":1402},{"g":19,"v":0.1,"x":45.6,"y":1352},{"g":19,"v":0.1,"x":47.2,"y":1402},{"g":19,"v":0.1,"x":45.6,"y":1478},{"g":19,"v":0.1,"x":44.2,"y":1402},
{"g":20,"v":-0.1,"x":49.7,"y":-7},{"g":20,"v":-0.1,"x":48.3,"y":70},{"g":20,"v":-0.1,"x":47.7,"y":107},{"g":20,"v":-0.1,"x":48.3,"y":137},{"g":20,"v":-0.1,"x":49.7,"y":163},{"g":20,"v":-0.1,"x":50.2,"y":159},{"g":20,"v":-0.1,"x":50,"y":33},{"g":20,"v":-0.1,"x":49.9,"y":-7},
{"g":21,"v":0.7,"x":46.5,"y":44},{"g":21,"v":0.7,"x":47.4,"y":30},{"g":21,"v":0.7,"x":48.8,"y":37},{"g":21,"v":0.7,"x":47.7,"y":52},{"g":21,"v":0.7,"x":46.5,"y":44},
{"g":22,"v":-0.1,"x":47.7,"y":89},{"g":22,"v":-0.1,"x":48.8,"y":79},{"g":22,"v":-0.1,"x":49.7,"y":85},{"g":22,"v":-0.1,"x":48.6,"y":100},{"g":22,"v":-0.1,"x":47.7,"y":89},
{"g":23,"v":0.1,"x":36.2,"y":124},{"g":23,"v":0.1,"x":37.3,"y":111},{"g":23,"v":0.1,"x":38.5,"y":122},{"g":23,"v":0.1,"x":37.3,"y":133},{"g":23,"v":0.1,"x":36.2,"y":124},
{"g":24,"v":0.1,"x":35.7,"y":172},{"g":24,"v":0.1,"x":36.9,"y":161},{"g":24,"v":0.1,"x":38,"y":170},{"g":24,"v":0.1,"x":36.9,"y":185},{"g":24,"v":0.1,"x":35.7,"y":172},
{"g":25,"v":0.3,"x":51.3,"y":78},{"g":25,"v":0.3,"x":51.8,"y":41},{"g":25,"v":0.3,"x":52.3,"y":78},{"g":25,"v":0.3,"x":51.8,"y":130},{"g":25,"v":0.3,"x":51.3,"y":78},
{"g":26,"v":0.3,"x":55.7,"y":118},{"g":26,"v":0.3,"x":55.7,"y":144},
{"g":27,"v":0.3,"x":55.7,"y":178},{"g":27,"v":0.3,"x":55.7,"y":237},
{"g":28,"v":0.3,"x":54.6,"y":15},{"g":28,"v":0.3,"x":54.6,"y":67},
{"g":29,"v":-0.1,"x":56.4,"y":37},{"g":29,"v":-0.1,"x":57.8,"y":41},{"g":29,"v":-0.1,"x":59.1,"y":70},{"g":29,"v":-0.1,"x":58.5,"y":89},{"g":29,"v":-0.1,"x":57.1,"y":59},{"g":29,"v":-0.1,"x":56.4,"y":37},
{"g":30,"v":1.3,"x":62,"y":107},{"g":30,"v":1.3,"x":63.1,"y":100},{"g":30,"v":1.3,"x":64.4,"y":122},{"g":30,"v":1.3,"x":63,"y":155},{"g":30,"v":1.3,"x":62.4,"y":137},{"g":30,"v":1.3,"x":62,"y":107},
{"g":31,"v":0.9,"x":63.5,"y":174},{"g":31,"v":0.9,"x":63,"y":218},{"g":31,"v":0.9,"x":63.5,"y":274},{"g":31,"v":0.9,"x":64.2,"y":211},{"g":31,"v":0.9,"x":63.5,"y":174},
{"g":32,"v":1.3,"x":60.9,"y":170},{"g":32,"v":1.3,"x":61.9,"y":170},{"g":32,"v":1.3,"x":61.9,"y":190},{"g":32,"v":1.3,"x":60.9,"y":190},{"g":32,"v":1.3,"x":60.9,"y":170},
{"g":33,"v":-0.9,"x":-7.7,"y":85},{"g":33,"v":-0.9,"x":-5.6,"y":78},{"g":33,"v":-0.9,"x":-4.9,"y":107},{"g":33,"v":-0.9,"x":-5.8,"y":118},{"g":33,"v":-0.9,"x":-7.4,"y":104},{"g":33,"v":-0.9,"x":-7.7,"y":85}
],
"k":[
{"g":1,"v":-0.3,"x":-27.7,"y":377},{"g":1,"v":-0.3,"x":-25.8,"y":326},{"g":1,"v":-0.3,"x":-24,"y":311},{"g":1,"v":-0.3,"x":-22.1,"y":333},{"g":1,"v":-0.3,"x":-21.7,"y":407},{"g":1,"v":-0.3,"x":-22.8,"y":444},{"g":1,"v":-0.3,"x":-24.4,"y":466},{"g":1,"v":-0.3,"x":-26.3,"y":436},
{"g":2,"v":-0.3,"x":-18.9,"y":130},{"g":2,"v":-0.3,"x":-16.6,"y":111},{"g":2,"v":-0.3,"x":-13,"y":118},{"g":2,"v":-0.3,"x":-13,"y":141},{"g":2,"v":-0.3,"x":-15.7,"y":170},{"g":2,"v":-0.3,"x":-18,"y":163},
{"g":3,"v":-0.3,"x":-11.1,"y":111},{"g":3,"v":-0.3,"x":-9.3,"y":78},{"g":3,"v":-0.3,"x":-5.6,"y":67},{"g":3,"v":-0.3,"x":-3.5,"y":111},{"g":3,"v":-0.3,"x":-3.3,"y":155},{"g":3,"v":-0.3,"x":-4.7,"y":167},{"g":3,"v":-0.3,"x":-7.4,"y":167},{"g":3,"v":-0.3,"x":-9.7,"y":159},
{"g":4,"v":-0.5,"x":-9.7,"y":111},{"g":4,"v":-0.5,"x":-7.4,"y":81},{"g":4,"v":-0.5,"x":-5.1,"y":81},{"g":4,"v":-0.5,"x":-4,"y":118},{"g":4,"v":-0.5,"x":-4.7,"y":144},{"g":4,"v":-0.5,"x":-7.4,"y":144},{"g":4,"v":-0.5,"x":-9.3,"y":130},
{"g":5,"v":-0.7,"x":-8.6,"y":107},{"g":5,"v":-0.7,"x":-7.4,"y":89},{"g":5,"v":-0.7,"x":-5.1,"y":89},{"g":5,"v":-0.7,"x":-4.7,"y":118},{"g":5,"v":-0.7,"x":-7.4,"y":130},
{"g":6,"v":-0.3,"x":3.4,"y":104},{"g":6,"v":-0.3,"x":4.5,"y":44},{"g":6,"v":-0.3,"x":5.9,"y":44},{"g":6,"v":-0.3,"x":7.3,"y":89},{"g":6,"v":-0.3,"x":8.2,"y":133},{"g":6,"v":-0.3,"x":5.9,"y":159},{"g":6,"v":-0.3,"x":3.8,"y":148},
{"g":7,"v":-0.5,"x":3.8,"y":111},{"g":7,"v":-0.5,"x":4.7,"y":59},{"g":7,"v":-0.5,"x":5.6,"y":67},{"g":7,"v":-0.5,"x":7.3,"y":111},{"g":7,"v":-0.5,"x":6.3,"y":144},{"g":7,"v":-0.5,"x":4.5,"y":137},
{"g":8,"v":-0.7,"x":4.5,"y":104},{"g":8,"v":-0.7,"x":5.2,"y":85},{"g":8,"v":-0.7,"x":6.3,"y":111},{"g":8,"v":-0.7,"x":5.4,"y":133},{"g":8,"v":-0.7,"x":4.7,"y":126},
{"g":9,"v":-0.9,"x":5,"y":104},{"g":9,"v":-0.9,"x":5.6,"y":100},{"g":9,"v":-0.9,"x":5.9,"y":115},{"g":9,"v":-0.9,"x":5.3,"y":118},
{"g":10,"v":-0.3,"x":8.4,"y":500},{"g":10,"v":-0.3,"x":9.1,"y":318},{"g":10,"v":-0.3,"x":10.9,"y":259},{"g":10,"v":-0.3,"x":12.8,"y":259},{"g":10,"v":-0.3,"x":14.1,"y":318},{"g":10,"v":-0.3,"x":15.1,"y":500},{"g":10,"v":-0.3,"x":15.1,"y":695},{"g":10,"v":-0.3,"x":12.3,"y":721},{"g":10,"v":-0.3,"x":10.7,"y":567},
{"g":11,"v":-0.5,"x":11.2,"y":500},{"g":11,"v":-0.5,"x":11.9,"y":333},{"g":11,"v":-0.5,"x":12.5,"y":289},{"g":11,"v":-0.5,"x":13.2,"y":348},{"g":11,"v":-0.5,"x":14.1,"y":500},{"g":11,"v":-0.5,"x":13.7,"y":669},{"g":11,"v":-0.5,"x":11.9,"y":669},
{"g":12,"v":-0.3,"x":-3.5,"y":459},{"g":12,"v":-0.3,"x":-3.3,"y":318},{"g":12,"v":-0.3,"x":-2.2,"y":318},{"g":12,"v":-0.3,"x":-1.9,"y":392},{"g":12,"v":-0.3,"x":-2.8,"y":459},
{"g":13,"v":-0.3,"x":-11.1,"y":669},{"g":13,"v":-0.3,"x":-9.7,"y":476},{"g":13,"v":-0.3,"x":-7.4,"y":476},{"g":13,"v":-0.3,"x":-6.3,"y":669},
{"g":14,"v":-0.3,"x":22.2,"y":118},{"g":14,"v":-0.3,"x":24.7,"y":96},{"g":14,"v":-0.3,"x":27.9,"y":104},{"g":14,"v":-0.3,"x":26.1,"y":163},{"g":14,"v":-0.3,"x":24.2,"y":222},{"g":14,"v":-0.3,"x":21.9,"y":170},
{"g":15,"v":-0.3,"x":20.1,"y":333},{"g":15,"v":-0.3,"x":23.3,"y":289},{"g":15,"v":-0.3,"x":26.5,"y":259},{"g":15,"v":-0.3,"x":27.7,"y":318},{"g":15,"v":-0.3,"x":29.8,"y":392},{"g":15,"v":-0.3,"x":30.4,"y":500},{"g":15,"v":-0.3,"x":29.8,"y":600},{"g":15,"v":-0.3,"x":21.5,"y":669},{"g":15,"v":-0.3,"x":18.7,"y":567},{"g":15,"v":-0.3,"x":19.2,"y":392},
{"g":16,"v":-0.5,"x":23.3,"y":370},{"g":16,"v":-0.5,"x":25.2,"y":326},{"g":16,"v":-0.5,"x":26.3,"y":377},{"g":16,"v":-0.5,"x":26.3,"y":500},{"g":16,"v":-0.5,"x":21,"y":500},{"g":16,"v":-0.5,"x":21.2,"y":437},{"g":16,"v":-0.5,"x":23,"y":437},
{"g":17,"v":-0.3,"x":41.7,"y":59},{"g":17,"v":-0.3,"x":45.4,"y":59},{"g":17,"v":-0.3,"x":46.3,"y":96},{"g":17,"v":-0.3,"x":46.7,"y":163},{"g":17,"v":-0.3,"x":49.5,"y":185},{"g":17,"v":-0.3,"x":51.3,"y":259},{"g":17,"v":-0.3,"x":51.6,"y":500},{"g":17,"v":-0.3,"x":52.7,"y":1230},{"g":17,"v":-0.3,"x":47.7,"y":1285},{"g":17,"v":-0.3,"x":47.7,"y":1644},{"g":17,"v":-0.3,"x":43.1,"y":1900},{"g":17,"v":-0.3,"x":39.4,"y":1952},{"g":17,"v":-0.3,"x":37.5,"y":1747},{"g":17,"v":-0.3,"x":31.1,"y":1747},{"g":17,"v":-0.3,"x":30.7,"y":1644},{"g":17,"v":-0.3,"x":36.9,"y":1490},{"g":17,"v":-0.3,"x":36.6,"y":977},{"g":17,"v":-0.3,"x":35.9,"y":500},{"g":17,"v":-0.3,"x":36.6,"y":377},{"g":17,"v":-0.3,"x":38.5,"y":229},{"g":17,"v":-0.3,"x":41.7,"y":170},
{"g":18,"v":-0.5,"x":42.6,"y":67},{"g":18,"v":-0.5,"x":44.9,"y":67},{"g":18,"v":-0.5,"x":44.9,"y":133},{"g":18,"v":-0.5,"x":43.5,"y":185},{"g":18,"v":-0.5,"x":44,"y":229},{"g":18,"v":-0.5,"x":44.9,"y":333},{"g":18,"v":-0.5,"x":46.3,"y":318},{"g":18,"v":-0.5,"x":49.5,"y":348},{"g":18,"v":-0.5,"x":50.4,"y":450},{"g":18,"v":-0.5,"x":49.7,"y":772},{"g":18,"v":-0.5,"x":47.7,"y":926},{"g":18,"v":-0.5,"x":47.2,"y":1131},{"g":18,"v":-0.5,"x":37.5,"y":1182},{"g":18,"v":-0.5,"x":36.6,"y":926},{"g":18,"v":-0.5,"x":36.2,"y":500},{"g":18,"v":-0.5,"x":36.9,"y":377},{"g":18,"v":-0.5,"x":38.9,"y":289},{"g":18,"v":-0.5,"x":41.7,"y":244},
{"g":19,"v":-0.7,"x":40.3,"y":318},{"g":19,"v":-0.7,"x":43.1,"y":289},{"g":19,"v":-0.7,"x":44.4,"y":377},{"g":19,"v":-0.7,"x":44.4,"y":500},{"g":19,"v":-0.7,"x":47.7,"y":500},{"g":19,"v":-0.7,"x":48.6,"y":926},{"g":19,"v":-0.7,"x":43.1,"y":1003},{"g":19,"v":-0.7,"x":38,"y":669},{"g":19,"v":-0.7,"x":37.5,"y":444},{"g":19,"v":-0.7,"x":38.9,"y":392},
{"g":20,"v":-0.7,"x":43.1,"y":81},{"g":20,"v":-0.7,"x":44.2,"y":96},{"g":20,"v":-0.7,"x":43.8,"y":148},{"g":20,"v":-0.7,"x":42.6,"y":141},
{"g":21,"v":-0.9,"x":40.8,"y":363},{"g":21,"v":-0.9,"x":43.1,"y":355},{"g":21,"v":-0.9,"x":44,"y":450},{"g":21,"v":-0.9,"x":43.5,"y":567},{"g":21,"v":-0.9,"x":41.2,"y":669},{"g":21,"v":-0.9,"x":39.4,"y":567},{"g":21,"v":-0.9,"x":39.9,"y":437},
{"g":22,"v":-0.5,"x":37.1,"y":1695},{"g":22,"v":-0.5,"x":38,"y":1593},{"g":22,"v":-0.5,"x":38.9,"y":1952},{"g":22,"v":-0.5,"x":37.5,"y":1952},
{"g":23,"v":-0.5,"x":40.3,"y":1541},{"g":23,"v":-0.5,"x":41,"y":1541},{"g":23,"v":-0.5,"x":41,"y":1952},{"g":23,"v":-0.5,"x":40.1,"y":1952},
{"g":24,"v":-0.3,"x":63.3,"y":669},{"g":24,"v":-0.3,"x":64.9,"y":618},{"g":24,"v":-0.3,"x":64.9,"y":2105},{"g":24,"v":-0.3,"x":63.7,"y":2105},
{"g":25,"v":-0.5,"x":64.2,"y":1285},{"g":25,"v":-0.5,"x":64.9,"y":1285},{"g":25,"v":-0.5,"x":64.9,"y":2105},{"g":25,"v":-0.5,"x":64.2,"y":2105},
{"g":26,"v":-0.3,"x":57.3,"y":669},{"g":26,"v":-0.3,"x":61.4,"y":721},{"g":26,"v":-0.3,"x":63.3,"y":1285},{"g":26,"v":-0.3,"x":63.3,"y":1952},{"g":26,"v":-0.3,"x":61,"y":2105},{"g":26,"v":-0.3,"x":61.4,"y":1695}
],
"gb":[
{"g":1,"v":0.1,"x":-37,"y":-15},{"g":1,"v":0.1,"x":-21.6,"y":-15},{"g":1,"v":0.1,"x":-21.6,"y":4},{"g":1,"v":0.1,"x":-21.1,"y":22},{"g":1,"v":0.1,"x":-19.3,"y":48},{"g":1,"v":0.1,"x":-19.3,"y":70},{"g":1,"v":0.1,"x":-22,"y":104},{"g":1,"v":0.1,"x":-22.7,"y":144},{"g":1,"v":0.1,"x":-20,"y":244},{"g":1,"v":0.1,"x":-22.5,"y":215},{"g":1,"v":0.1,"x":-24.3,"y":211},{"g":1,"v":0.1,"x":-24.8,"y":222},{"g":1,"v":0.1,"x":-25.5,"y":241},{"g":1,"v":0.1,"x":-27.6,"y":229},{"g":1,"v":0.1,"x":-29.4,"y":207},{"g":1,"v":0.1,"x":-30.8,"y":185},{"g":1,"v":0.1,"x":-30.5,"y":159},{"g":1,"v":0.1,"x":-31.5,"y":133},{"g":1,"v":0.1,"x":-30.1,"y":104},{"g":1,"v":0.1,"x":-30.5,"y":85},{"g":1,"v":0.1,"x":-32.4,"y":93},{"g":1,"v":0.1,"x":-32.6,"y":118},{"g":1,"v":0.1,"x":-32.2,"y":148},{"g":1,"v":0.1,"x":-33.1,"y":178},{"g":1,"v":0.1,"x":-33.8,"y":167},{"g":1,"v":0.1,"x":-34.4,"y":211},{"g":1,"v":0.1,"x":-37,"y":211},
{"g":2,"v":0.1,"x":-3.9,"y":-15},{"g":2,"v":0.1,"x":-3.9,"y":4},{"g":2,"v":0.1,"x":-2.3,"y":22},{"g":2,"v":0.1,"x":0.5,"y":33},{"g":2,"v":0.1,"x":3.4,"y":48},{"g":2,"v":0.1,"x":0.5,"y":52},{"g":2,"v":0.1,"x":-2.3,"y":41},{"g":2,"v":0.1,"x":-4.1,"y":59},{"g":2,"v":0.1,"x":-4.4,"y":89},{"g":2,"v":0.1,"x":-3.7,"y":126},{"g":2,"v":0.1,"x":-4.1,"y":155},{"g":2,"v":0.1,"x":-6.7,"y":152},{"g":2,"v":0.1,"x":-7.8,"y":178},{"g":2,"v":0.1,"x":-9,"y":211},{"g":2,"v":0.1,"x":-8,"y":252},{"g":2,"v":0.1,"x":-6.9,"y":311},{"g":2,"v":0.1,"x":-5.5,"y":396},{"g":2,"v":0.1,"x":-3.4,"y":285},{"g":2,"v":0.1,"x":-1.1,"y":311},{"g":2,"v":0.1,"x":-1.1,"y":407},{"g":2,"v":0.1,"x":-3,"y":500},{"g":2,"v":0.1,"x":5.3,"y":500},{"g":2,"v":0.1,"x":4.8,"y":481},{"g":2,"v":0.1,"x":2.5,"y":448},{"g":2,"v":0.1,"x":2.3,"y":370},{"g":2,"v":0.1,"x":3.7,"y":370},{"g":2,"v":0.1,"x":4.5,"y":411},{"g":2,"v":0.1,"x":6,"y":333},{"g":2,"v":0.1,"x":6.9,"y":281},{"g":2,"v":0.1,"x":7.1,"y":222},{"g":2,"v":0.1,"x":7.1,"y":185},{"g":2,"v":0.1,"x":6.2,"y":148},{"g":2,"v":0.1,"x":8.5,"y":118},{"g":2,"v":0.1,"x":9.6,"y":74},{"g":2,"v":0.1,"x":9.4,"y":52},{"g":2,"v":0.1,"x":6.4,"y":33},{"g":2,"v":0.1,"x":7.1,"y":19},{"g":2,"v":0.1,"x":11.9,"y":41},{"g":2,"v":0.1,"x":13.3,"y":67},{"g":2,"v":0.1,"x":16.5,"y":111},{"g":2,"v":0.1,"x":17.5,"y":89},{"g":2,"v":0.1,"x":20.7,"y":74},{"g":2,"v":0.1,"x":23.4,"y":93},{"g":2,"v":0.1,"x":26.6,"y":78},{"g":2,"v":0.1,"x":27.3,"y":104},{"g":2,"v":0.1,"x":26.2,"y":185},{"g":2,"v":0.1,"x":26.6,"y":244},{"g":2,"v":0.1,"x":27.8,"y":292},{"g":2,"v":0.1,"x":28.5,"y":252},{"g":2,"v":0.1,"x":29.6,"y":311},{"g":2,"v":0.1,"x":30.8,"y":296},{"g":2,"v":0.1,"x":31.7,"y":303},{"g":2,"v":0.1,"x":31.7,"y":429},{"g":2,"v":0.1,"x":30.1,"y":392},{"g":2,"v":0.1,"x":28.5,"y":448},{"g":2,"v":0.1,"x":27.6,"y":359},{"g":2,"v":0.1,"x":26.6,"y":450},{"g":2,"v":0.1,"x":25.3,"y":500},{"g":2,"v":0.1,"x":67,"y":500},{"g":2,"v":0.1,"x":67,"y":-15},
{"g":3,"v":0.1,"x":15.2,"y":500},{"g":3,"v":0.1,"x":15.2,"y":311},{"g":3,"v":0.1,"x":16.1,"y":222},{"g":3,"v":0.1,"x":17.2,"y":192},{"g":3,"v":0.1,"x":18.6,"y":222},{"g":3,"v":0.1,"x":19.1,"y":274},{"g":3,"v":0.1,"x":18.4,"y":318},{"g":3,"v":0.1,"x":18.4,"y":500}
],
"gd":[
{"g":1,"v":0.1,"x":-37,"y":-15},{"g":1,"v":0.1,"x":-21.6,"y":-15},{"g":1,"v":0.1,"x":-21.6,"y":2},{"g":1,"v":0.1,"x":-21.1,"y":26},{"g":1,"v":0.1,"x":-19.3,"y":55},{"g":1,"v":0.1,"x":-19.3,"y":74},{"g":1,"v":0.1,"x":-22.5,"y":107},{"g":1,"v":0.1,"x":-23.7,"y":130},{"g":1,"v":0.1,"x":-25.3,"y":74},{"g":1,"v":0.1,"x":-26.2,"y":100},{"g":1,"v":0.1,"x":-24.8,"y":130},{"g":1,"v":0.1,"x":-25,"y":241},{"g":1,"v":0.1,"x":-27.1,"y":226},{"g":1,"v":0.1,"x":-29.4,"y":207},{"g":1,"v":0.1,"x":-31.2,"y":181},{"g":1,"v":0.1,"x":-31,"y":148},{"g":1,"v":0.1,"x":-32.6,"y":100},{"g":1,"v":0.1,"x":-32.6,"y":137},{"g":1,"v":0.1,"x":-31.7,"y":155},{"g":1,"v":0.1,"x":-33.5,"y":174},{"g":1,"v":0.1,"x":-34.2,"y":211},{"g":1,"v":0.1,"x":-37,"y":211},
{"g":2,"v":0.1,"x":-3.9,"y":-15},{"g":2,"v":0.1,"x":-3.9,"y":2},{"g":2,"v":0.1,"x":0.9,"y":37},{"g":2,"v":0.1,"x":3.4,"y":48},{"g":2,"v":0.1,"x":0.5,"y":57},{"g":2,"v":0.1,"x":-2.8,"y":41},{"g":2,"v":0.1,"x":-4.4,"y":63},{"g":2,"v":0.1,"x":-4.4,"y":96},{"g":2,"v":0.1,"x":-3.4,"y":122},{"g":2,"v":0.1,"x":-4.4,"y":159},{"g":2,"v":0.1,"x":-6.7,"y":148},{"g":2,"v":0.1,"x":-8,"y":189},{"g":2,"v":0.1,"x":-7.8,"y":248},{"g":2,"v":0.1,"x":-7.3,"y":292},{"g":2,"v":0.1,"x":-5.5,"y":407},{"g":2,"v":0.1,"x":-3.7,"y":285},{"g":2,"v":0.1,"x":-1.4,"y":311},{"g":2,"v":0.1,"x":-1.4,"y":403},{"g":2,"v":0.1,"x":-3.2,"y":500},{"g":2,"v":0.1,"x":4.8,"y":500},{"g":2,"v":0.1,"x":4.6,"y":476},{"g":2,"v":0.1,"x":2.5,"y":447},{"g":2,"v":0.1,"x":2.3,"y":366},{"g":2,"v":0.1,"x":3.7,"y":366},{"g":2,"v":0.1,"x":4.5,"y":400},{"g":2,"v":0.1,"x":6,"y":329},{"g":2,"v":0.1,"x":7.1,"y":218},{"g":2,"v":0.1,"x":6.2,"y":137},{"g":2,"v":0.1,"x":7.3,"y":107},{"g":2,"v":0.1,"x":8.9,"y":111},{"g":2,"v":0.1,"x":9.4,"y":70},{"g":2,"v":0.1,"x":6.4,"y":41},{"g":2,"v":0.1,"x":7.1,"y":22},{"g":2,"v":0.1,"x":11.9,"y":44},{"g":2,"v":0.1,"x":16.5,"y":111},{"g":2,"v":0.1,"x":17.5,"y":85},{"g":2,"v":0.1,"x":20.7,"y":78},{"g":2,"v":0.1,"x":27.3,"y":100},{"g":2,"v":0.1,"x":29.2,"y":41},{"g":2,"v":0.1,"x":30.5,"y":52},{"g":2,"v":0.1,"x":30.8,"y":122},{"g":2,"v":0.1,"x":31.7,"y":137},{"g":2,"v":0.1,"x":31.5,"y":189},{"g":2,"v":0.1,"x":30.8,"y":155},{"g":2,"v":0.1,"x":28.5,"y":189},{"g":2,"v":0.1,"x":27.3,"y":137},{"g":2,"v":0.1,"x":26.2,"y":189},{"g":2,"v":0.1,"x":26.6,"y":233},{"g":2,"v":0.1,"x":27.5,"y":266},{"g":2,"v":0.1,"x":28.5,"y":241},{"g":2,"v":0.1,"x":29.6,"y":329},{"g":2,"v":0.1,"x":30.5,"y":296},{"g":2,"v":0.1,"x":31.7,"y":303},{"g":2,"v":0.1,"x":31.7,"y":425},{"g":2,"v":0.1,"x":29.6,"y":381},{"g":2,"v":0.1,"x":28.5,"y":447},{"g":2,"v":0.1,"x":27.3,"y":359},{"g":2,"v":0.1,"x":25.9,"y":500},{"g":2,"v":0.1,"x":67,"y":500},{"g":2,"v":0.1,"x":67,"y":-15},
{"g":3,"v":0.1,"x":14.9,"y":500},{"g":3,"v":0.1,"x":14.9,"y":315},{"g":3,"v":0.1,"x":15.8,"y":211},{"g":3,"v":0.1,"x":17,"y":189},{"g":3,"v":0.1,"x":18.6,"y":226},{"g":3,"v":0.1,"x":19.1,"y":278},{"g":3,"v":0.1,"x":18.4,"y":315},{"g":3,"v":0.1,"x":18.4,"y":500},
{"g":4,"v":0.1,"x":-23.7,"y":196},{"g":4,"v":0.1,"x":-22.5,"y":167},{"g":4,"v":0.1,"x":-20.7,"y":204},{"g":4,"v":0.1,"x":-18.8,"y":211},{"g":4,"v":0.1,"x":-17.9,"y":241},{"g":4,"v":0.1,"x":-19.5,"y":266},{"g":4,"v":0.1,"x":-22,"y":241},{"g":4,"v":0.1,"x":-23.7,"y":196},
{"g":5,"v":0.1,"x":-11.9,"y":237},{"g":5,"v":0.1,"x":-11.9,"y":192},{"g":5,"v":0.1,"x":-10.1,"y":189},{"g":5,"v":0.1,"x":-8,"y":200},{"g":5,"v":0.1,"x":-7.8,"y":248},{"g":5,"v":0.1,"x":-10.8,"y":248}
],
"sh":[
{"g":1,"v":0.3,"x":-2.8,"y":7},{"g":1,"v":0.3,"x":7,"y":7},{"g":1,"v":0.3,"x":5.1,"y":26},{"g":1,"v":0.3,"x":2.3,"y":26},
{"g":2,"v":0.5,"x":-0.5,"y":7},{"g":2,"v":0.5,"x":7,"y":7},{"g":2,"v":0.5,"x":6,"y":22},{"g":2,"v":0.5,"x":1.4,"y":19},
{"g":3,"v":0.3,"x":12.9,"y":11},{"g":3,"v":0.3,"x":21.6,"y":11},{"g":3,"v":0.3,"x":21.1,"y":30},{"g":3,"v":0.3,"x":16.5,"y":59},{"g":3,"v":0.3,"x":13.8,"y":33},
{"g":4,"v":0.5,"x":11.9,"y":9},{"g":4,"v":0.5,"x":19.3,"y":9},{"g":4,"v":0.5,"x":16.5,"y":30},{"g":4,"v":0.5,"x":14.7,"y":19},
{"g":5,"v":-0.7,"x":53.2,"y":7},{"g":5,"v":-0.7,"x":64.5,"y":7},{"g":5,"v":-0.7,"x":64.3,"y":37},{"g":5,"v":-0.7,"x":63.4,"y":74},{"g":5,"v":-0.7,"x":62.5,"y":104},{"g":5,"v":-0.7,"x":61.3,"y":152},{"g":5,"v":-0.7,"x":60.2,"y":130},{"g":5,"v":-0.7,"x":59.3,"y":111},{"g":5,"v":-0.7,"x":57.9,"y":89},{"g":5,"v":-0.7,"x":56.9,"y":67},{"g":5,"v":-0.7,"x":57.2,"y":37},
{"g":6,"v":-0.3,"x":64.5,"y":22},{"g":6,"v":-0.3,"x":65,"y":22},{"g":6,"v":-0.3,"x":65,"y":89},{"g":6,"v":-0.3,"x":63.6,"y":89},
{"g":7,"v":0.3,"x":52.8,"y":30},{"g":7,"v":0.3,"x":53.5,"y":22},{"g":7,"v":0.3,"x":54.4,"y":44},{"g":7,"v":0.3,"x":53.7,"y":52},
{"g":8,"v":0.9,"x":54.4,"y":48},{"g":8,"v":0.9,"x":55.6,"y":44},{"g":8,"v":0.9,"x":56,"y":78},{"g":8,"v":0.9,"x":55.1,"y":74}
],
"ub":[
{"g":1,"v":0.3,"x":33,"y":11},{"g":1,"v":0.3,"x":41.3,"y":11},{"g":1,"v":0.3,"x":40.9,"y":52},{"g":1,"v":0.3,"x":38.6,"y":44},{"g":1,"v":0.3,"x":37.7,"y":185},{"g":1,"v":0.3,"x":36.8,"y":81},{"g":1,"v":0.3,"x":34.5,"y":74},{"g":1,"v":0.3,"x":33.3,"y":52},
{"g":2,"v":0.3,"x":42,"y":11},{"g":2,"v":0.3,"x":49,"y":11},{"g":2,"v":0.3,"x":48.5,"y":37},{"g":2,"v":0.3,"x":46.4,"y":52},{"g":2,"v":0.3,"x":42.7,"y":30},
{"g":3,"v":0.3,"x":38.6,"y":148},{"g":3,"v":0.3,"x":39.5,"y":148},{"g":3,"v":0.3,"x":39.9,"y":200},{"g":3,"v":0.3,"x":39,"y":192},
{"g":4,"v":0.3,"x":34.4,"y":366},{"g":4,"v":0.3,"x":35.4,"y":496},{"g":4,"v":0.3,"x":33.5,"y":496},
{"g":5,"v":0.3,"x":17.7,"y":926},{"g":5,"v":0.3,"x":18.8,"y":772},{"g":5,"v":0.3,"x":19.8,"y":721},{"g":5,"v":0.3,"x":32.6,"y":669},{"g":5,"v":0.3,"x":37.2,"y":567},{"g":5,"v":0.3,"x":38,"y":1028},{"g":5,"v":0.3,"x":35.8,"y":1080},{"g":5,"v":0.3,"x":35.7,"y":1490},{"g":5,"v":0.3,"x":34.2,"y":1285},{"g":5,"v":0.3,"x":32.9,"y":1080},{"g":5,"v":0.3,"x":22,"y":1105},{"g":5,"v":0.3,"x":19.8,"y":1157},{"g":5,"v":0.3,"x":18.8,"y":1105},
{"g":6,"v":0.5,"x":32.4,"y":772},{"g":6,"v":0.5,"x":33.8,"y":644},{"g":6,"v":0.5,"x":35.4,"y":798},{"g":6,"v":0.5,"x":34,"y":900}
],
"ud":[
{"g":1,"v":0.3,"x":32.9,"y":7},{"g":1,"v":0.3,"x":41.3,"y":7},{"g":1,"v":0.3,"x":49,"y":7},{"g":1,"v":0.3,"x":48.5,"y":30},{"g":1,"v":0.3,"x":46.4,"y":33},{"g":1,"v":0.3,"x":42.7,"y":15},{"g":1,"v":0.3,"x":41.3,"y":30},{"g":1,"v":0.3,"x":39,"y":33},{"g":1,"v":0.3,"x":37.7,"y":107},{"g":1,"v":0.3,"x":36.3,"y":67},{"g":1,"v":0.3,"x":34,"y":56},{"g":1,"v":0.3,"x":33,"y":26},
{"g":2,"v":0.5,"x":42.7,"y":7},{"g":2,"v":0.5,"x":46.4,"y":7},{"g":2,"v":0.5,"x":45.9,"y":22},{"g":2,"v":0.5,"x":43.2,"y":26},
{"g":3,"v":0.3,"x":37.4,"y":122},{"g":3,"v":0.3,"x":37.9,"y":152},{"g":3,"v":0.3,"x":37.1,"y":152},
{"g":4,"v":0.3,"x":34.4,"y":399},{"g":4,"v":0.3,"x":35.1,"y":500},{"g":4,"v":0.3,"x":33.7,"y":500},
{"g":5,"v":0.3,"x":27.3,"y":820},{"g":5,"v":0.3,"x":31.7,"y":693},{"g":5,"v":0.3,"x":33.9,"y":566},{"g":5,"v":0.3,"x":36,"y":794},{"g":5,"v":0.3,"x":37.9,"y":591},{"g":5,"v":0.3,"x":37.9,"y":997},{"g":5,"v":0.3,"x":36.3,"y":997},{"g":5,"v":0.3,"x":33.9,"y":1124},{"g":5,"v":0.3,"x":32.1,"y":972}
],
"tb":[
{"g":1,"v":-0.1,"x":-25.7,"y":104},{"g":1,"v":-0.1,"x":-25.3,"y":81},{"g":1,"v":-0.1,"x":-24.1,"y":111},{"g":1,"v":-0.1,"x":-24.8,"y":132},{"g":1,"v":-0.1,"x":-25.7,"y":104},
{"g":2,"v":-0.1,"x":-20.7,"y":178},{"g":2,"v":-0.1,"x":-20,"y":167},{"g":2,"v":-0.1,"x":-18.6,"y":185},{"g":2,"v":-0.1,"x":-19.3,"y":198},{"g":2,"v":-0.1,"x":-20.7,"y":178},
{"g":3,"v":-0.1,"x":-11.7,"y":209},{"g":3,"v":-0.1,"x":-10.9,"y":209},
{"g":4,"v":-0.1,"x":-30.1,"y":167},{"g":4,"v":-0.1,"x":-29.5,"y":167},
{"g":5,"v":-0.1,"x":7.8,"y":6},{"g":5,"v":-0.1,"x":11.9,"y":6},
{"g":6,"v":-0.1,"x":27.8,"y":96},{"g":6,"v":-0.1,"x":29.2,"y":44},{"g":6,"v":-0.1,"x":30.1,"y":48},{"g":6,"v":-0.1,"x":30.8,"y":85},{"g":6,"v":-0.1,"x":29.6,"y":141},{"g":6,"v":-0.1,"x":28.5,"y":174},{"g":6,"v":-0.1,"x":27.8,"y":96},
{"g":7,"v":0.1,"x":30.4,"y":124},{"g":7,"v":0.1,"x":31.5,"y":112},{"g":7,"v":0.1,"x":32.7,"y":124},{"g":7,"v":0.1,"x":31.5,"y":135},{"g":7,"v":0.1,"x":30.4,"y":124},
{"g":8,"v":0.1,"x":29.9,"y":174},{"g":8,"v":0.1,"x":30.9,"y":163},{"g":8,"v":0.1,"x":32.2,"y":174},{"g":8,"v":0.1,"x":30.9,"y":186},{"g":8,"v":0.1,"x":29.9,"y":174},
{"g":9,"v":-0.1,"x":41.5,"y":96},{"g":9,"v":-0.1,"x":42.7,"y":63},{"g":9,"v":-0.1,"x":45,"y":74},{"g":9,"v":-0.1,"x":46.4,"y":170},{"g":9,"v":-0.1,"x":48.2,"y":174},{"g":9,"v":-0.1,"x":49.1,"y":207},{"g":9,"v":-0.1,"x":49.1,"y":237},{"g":9,"v":-0.1,"x":47.5,"y":311},{"g":9,"v":-0.1,"x":45.5,"y":233},{"g":9,"v":-0.1,"x":45.2,"y":348},{"g":9,"v":-0.1,"x":44.6,"y":422},{"g":9,"v":-0.1,"x":44.6,"y":500},{"g":9,"v":-0.1,"x":43.9,"y":669},{"g":9,"v":-0.1,"x":44.1,"y":797},{"g":9,"v":-0.1,"x":49.6,"y":746},{"g":9,"v":-0.1,"x":51.9,"y":772},{"g":9,"v":-0.1,"x":52.8,"y":1028},{"g":9,"v":-0.1,"x":51.9,"y":1439},{"g":9,"v":-0.1,"x":49.1,"y":1541},{"g":9,"v":-0.1,"x":47.3,"y":1849},{"g":9,"v":-0.1,"x":43.2,"y":1875},{"g":9,"v":-0.1,"x":42.3,"y":2105},{"g":9,"v":-0.1,"x":41.8,"y":1900},{"g":9,"v":-0.1,"x":41.8,"y":1593},{"g":9,"v":-0.1,"x":39.9,"y":1336},{"g":9,"v":-0.1,"x":39,"y":1131},{"g":9,"v":-0.1,"x":39.5,"y":849},{"g":9,"v":-0.1,"x":40.9,"y":772},{"g":9,"v":-0.1,"x":41.3,"y":977},{"g":9,"v":-0.1,"x":42.5,"y":900},{"g":9,"v":-0.1,"x":42.7,"y":500},{"g":9,"v":-0.1,"x":42.9,"y":318},{"g":9,"v":-0.1,"x":42.7,"y":185},{"g":9,"v":-0.1,"x":42.3,"y":133},{"g":9,"v":-0.1,"x":41.5,"y":96},
{"g":10,"v":-0.1,"x":40.6,"y":444},{"g":10,"v":-0.1,"x":41.6,"y":385},{"g":10,"v":-0.1,"x":42.5,"y":437},{"g":10,"v":-0.1,"x":42.5,"y":496},{"g":10,"v":-0.1,"x":41.3,"y":489},{"g":10,"v":-0.1,"x":40.6,"y":444},
{"g":11,"v":-0.1,"x":41.1,"y":385},{"g":11,"v":-0.1,"x":41.6,"y":263},{"g":11,"v":-0.1,"x":42,"y":385},
{"g":12,"v":-0.1,"x":38.1,"y":496},{"g":12,"v":-0.1,"x":38.3,"y":296},{"g":12,"v":-0.1,"x":39.5,"y":307},{"g":12,"v":-0.1,"x":39,"y":496},
{"g":13,"v":-0.1,"x":38.1,"y":500},{"g":13,"v":-0.1,"x":39.5,"y":721},{"g":13,"v":-0.1,"x":39,"y":500},
{"g":14,"v":-0.1,"x":47.5,"y":326},{"g":14,"v":-0.1,"x":48.5,"y":374},{"g":14,"v":-0.1,"x":47.5,"y":392},{"g":14,"v":-0.1,"x":46.6,"y":370},{"g":14,"v":-0.1,"x":47.5,"y":326},
{"g":15,"v":-0.1,"x":47.1,"y":111},{"g":15,"v":-0.1,"x":48.7,"y":52},{"g":15,"v":-0.1,"x":49.5,"y":4},{"g":15,"v":-0.1,"x":49.8,"y":52},{"g":15,"v":-0.1,"x":49.6,"y":96},{"g":15,"v":-0.1,"x":49.1,"y":167},{"g":15,"v":-0.1,"x":46.6,"y":170},{"g":15,"v":-0.1,"x":46.9,"y":133},{"g":15,"v":-0.1,"x":47.1,"y":111},
{"g":16,"v":0.1,"x":48.8,"y":89},{"g":16,"v":0.1,"x":49.8,"y":78},{"g":16,"v":0.1,"x":51,"y":89},{"g":16,"v":0.1,"x":49.8,"y":100},{"g":16,"v":0.1,"x":48.8,"y":89},
{"g":17,"v":0.1,"x":48.8,"y":137},{"g":17,"v":0.1,"x":49.8,"y":127},{"g":17,"v":0.1,"x":51,"y":137},{"g":17,"v":0.1,"x":49.8,"y":148},{"g":17,"v":0.1,"x":48.8,"y":137},
{"g":18,"v":-0.1,"x":50.5,"y":204},{"g":18,"v":-0.1,"x":50.5,"y":222},
{"g":19,"v":-0.3,"x":56.3,"y":70},{"g":19,"v":-0.3,"x":57.9,"y":96},{"g":19,"v":-0.3,"x":59.2,"y":144},{"g":19,"v":-0.3,"x":60.4,"y":167},{"g":19,"v":-0.3,"x":62,"y":159},{"g":19,"v":-0.3,"x":62.7,"y":104},{"g":19,"v":-0.3,"x":65.5,"y":104},{"g":19,"v":-0.3,"x":65.5,"y":215},{"g":19,"v":-0.3,"x":65,"y":215},{"g":19,"v":-0.3,"x":63.8,"y":192},{"g":19,"v":-0.3,"x":62.9,"y":126},{"g":19,"v":-0.3,"x":62,"y":141},{"g":19,"v":-0.3,"x":60.4,"y":141},{"g":19,"v":-0.3,"x":58.8,"y":111},{"g":19,"v":-0.3,"x":56.9,"y":67},
{"g":20,"v":-0.1,"x":55.1,"y":170},{"g":20,"v":-0.1,"x":55.3,"y":104},{"g":20,"v":-0.1,"x":55.8,"y":170},{"g":20,"v":-0.1,"x":55.1,"y":170},
{"g":21,"v":-0.1,"x":54.7,"y":211},{"g":21,"v":-0.1,"x":55.6,"y":200},{"g":21,"v":-0.1,"x":56.7,"y":211},{"g":21,"v":-0.1,"x":55.6,"y":222},{"g":21,"v":-0.1,"x":54.7,"y":211},
{"g":22,"v":0.1,"x":53.3,"y":255},{"g":22,"v":0.1,"x":54.4,"y":244},{"g":22,"v":0.1,"x":55.6,"y":259},{"g":22,"v":0.1,"x":54.4,"y":270},{"g":22,"v":0.1,"x":53.3,"y":255},
{"g":23,"v":-0.1,"x":58.1,"y":222},{"g":23,"v":-0.1,"x":58.6,"y":204},{"g":23,"v":-0.1,"x":59.2,"y":222},{"g":23,"v":-0.1,"x":58.6,"y":252},{"g":23,"v":-0.1,"x":58.1,"y":222},
{"g":24,"v":-0.1,"x":57.4,"y":440},{"g":24,"v":-0.1,"x":57.4,"y":488},
{"g":25,"v":-0.1,"x":-34.2,"y":500},{"g":25,"v":-0.1,"x":-32.2,"y":590},{"g":25,"v":-0.1,"x":-30.5,"y":515},
{"g":26,"v":-0.1,"x":-13.1,"y":515},{"g":26,"v":-0.1,"x":-11,"y":644},{"g":26,"v":-0.1,"x":-6.9,"y":644},{"g":26,"v":-0.1,"x":-5.5,"y":541},
{"g":27,"v":-0.1,"x":5.3,"y":500},{"g":27,"v":-0.1,"x":12.4,"y":695},{"g":27,"v":-0.1,"x":14.2,"y":721},{"g":27,"v":-0.1,"x":15.1,"y":567},{"g":27,"v":-0.1,"x":15.2,"y":500},
{"g":28,"v":-0.1,"x":-11,"y":1387},{"g":28,"v":-0.1,"x":-8.3,"y":1259},{"g":28,"v":-0.1,"x":-1.4,"y":1182},{"g":28,"v":-0.1,"x":3.7,"y":1259},{"g":28,"v":-0.1,"x":5.5,"y":1387},{"g":28,"v":-0.1,"x":3.7,"y":1541},{"g":28,"v":-0.1,"x":-2.3,"y":1644},{"g":28,"v":-0.1,"x":-6,"y":1618},{"g":28,"v":-0.1,"x":-8.7,"y":1490},{"g":28,"v":-0.1,"x":-11,"y":1387},
{"g":29,"v":-0.1,"x":-20.2,"y":1387},{"g":29,"v":-0.1,"x":-18.2,"y":1387},
{"g":30,"v":-0.1,"x":-27.8,"y":1610},{"g":30,"v":-0.1,"x":-27.4,"y":1610},
{"g":31,"v":-0.1,"x":56.5,"y":823},{"g":31,"v":-0.1,"x":58,"y":720},{"g":31,"v":-0.1,"x":59.5,"y":510},{"g":31,"v":-0.1,"x":60.4,"y":1080},{"g":31,"v":-0.1,"x":59.7,"y":1385},{"g":31,"v":-0.1,"x":56.5,"y":823},
{"g":32,"v":-0.1,"x":60.8,"y":1541},{"g":32,"v":-0.1,"x":61.5,"y":1233},{"g":32,"v":-0.1,"x":63.4,"y":1131},{"g":32,"v":-0.1,"x":64.5,"y":1208},{"g":32,"v":-0.1,"x":62.5,"y":1952},{"g":32,"v":-0.1,"x":60.8,"y":1541},
{"g":33,"v":-0.1,"x":62.7,"y":570},{"g":33,"v":-0.1,"x":65.5,"y":500},{"g":33,"v":-0.1,"x":65.5,"y":1208},{"g":33,"v":-0.1,"x":64.5,"y":1208},{"g":33,"v":-0.1,"x":63,"y":1028},{"g":33,"v":-0.1,"x":62.7,"y":570},
{"g":34,"v":-0.1,"x":32.1,"y":1620},{"g":34,"v":-0.1,"x":32.6,"y":1541},{"g":34,"v":-0.1,"x":32.8,"y":1747},{"g":34,"v":-0.1,"x":32.5,"y":1798},{"g":34,"v":-0.1,"x":32.1,"y":1620},
{"g":35,"v":-0.1,"x":38.9,"y":1952},{"g":35,"v":-0.1,"x":39.4,"y":1772},{"g":35,"v":-0.1,"x":39.8,"y":1952},{"g":35,"v":-0.1,"x":39.4,"y":2105},{"g":35,"v":-0.1,"x":38.9,"y":1952},
{"g":36,"v":-0.1,"x":40,"y":1798},{"g":36,"v":-0.1,"x":40.6,"y":1490},{"g":36,"v":-0.1,"x":41.3,"y":1798},{"g":36,"v":-0.1,"x":40.6,"y":2105},{"g":36,"v":-0.1,"x":40,"y":1798},
{"g":37,"v":0.1,"x":38.3,"y":1385},{"g":37,"v":0.1,"x":38.7,"y":1385},
{"g":38,"v":0.1,"x":53.3,"y":1618},{"g":38,"v":0.1,"x":53.7,"y":1618}
],
"td":[
{"g":1,"v":-0.1,"x":-31.5,"y":89},{"g":1,"v":-0.1,"x":-30.5,"y":78},{"g":1,"v":-0.1,"x":-29.4,"y":87},{"g":1,"v":-0.1,"x":-30.5,"y":101},{"g":1,"v":-0.1,"x":-31.5,"y":89},
{"g":2,"v":0.1,"x":-31,"y":141},{"g":2,"v":0.1,"x":-29.6,"y":130},{"g":2,"v":0.1,"x":-28.7,"y":141},{"g":2,"v":0.1,"x":-30.1,"y":150},{"g":2,"v":0.1,"x":-31,"y":141},
{"g":3,"v":-0.1,"x":-10.8,"y":233},{"g":3,"v":-0.1,"x":-10.1,"y":218},{"g":3,"v":-0.1,"x":-9.2,"y":248},{"g":3,"v":-0.1,"x":-9.9,"y":255},{"g":3,"v":-0.1,"x":-10.8,"y":233},
{"g":4,"v":0.1,"x":-8,"y":215},{"g":4,"v":0.1,"x":-7.3,"y":196},{"g":4,"v":0.1,"x":-6.4,"y":218},{"g":4,"v":0.1,"x":-7.1,"y":233},{"g":4,"v":0.1,"x":-8,"y":215},
{"g":5,"v":-0.1,"x":11.5,"y":181},{"g":5,"v":-0.1,"x":11.5,"y":204},
{"g":6,"v":-0.1,"x":7.8,"y":6},{"g":6,"v":-0.1,"x":11.9,"y":6},
{"g":7,"v":-0.1,"x":41.6,"y":100},{"g":7,"v":-0.1,"x":43.4,"y":67},{"g":7,"v":-0.1,"x":45.2,"y":78},{"g":7,"v":-0.1,"x":46.2,"y":159},{"g":7,"v":-0.1,"x":46.9,"y":170},{"g":7,"v":-0.1,"x":48.2,"y":167},{"g":7,"v":-0.1,"x":49.1,"y":196},{"g":7,"v":-0.1,"x":49.1,"y":270},{"g":7,"v":-0.1,"x":49.1,"y":366},{"g":7,"v":-0.1,"x":47.3,"y":411},{"g":7,"v":-0.1,"x":46.4,"y":455},{"g":7,"v":-0.1,"x":44.8,"y":470},{"g":7,"v":-0.1,"x":44.3,"y":500},{"g":7,"v":-0.1,"x":44.1,"y":743},{"g":7,"v":-0.1,"x":45.5,"y":794},{"g":7,"v":-0.1,"x":51.4,"y":743},{"g":7,"v":-0.1,"x":53.3,"y":997},{"g":7,"v":-0.1,"x":54.4,"y":1276},{"g":7,"v":-0.1,"x":55.6,"y":1174},{"g":7,"v":-0.1,"x":56.5,"y":500},{"g":7,"v":-0.1,"x":56.9,"y":436},{"g":7,"v":-0.1,"x":57.9,"y":436},{"g":7,"v":-0.1,"x":58.1,"y":591},{"g":7,"v":-0.1,"x":59.5,"y":461},{"g":7,"v":-0.1,"x":59.7,"y":591},{"g":7,"v":-0.1,"x":60.6,"y":895},{"g":7,"v":-0.1,"x":61.8,"y":743},{"g":7,"v":-0.1,"x":62.7,"y":1022},{"g":7,"v":-0.1,"x":62.5,"y":591},{"g":7,"v":-0.1,"x":63.2,"y":478},{"g":7,"v":-0.1,"x":64.8,"y":478},{"g":7,"v":-0.1,"x":65.6,"y":478},{"g":7,"v":-0.1,"x":65.6,"y":2061},{"g":7,"v":-0.1,"x":64.5,"y":2061},{"g":7,"v":-0.1,"x":63.2,"y":1960},{"g":7,"v":-0.1,"x":61.5,"y":2087},{"g":7,"v":-0.1,"x":60.4,"y":1681},{"g":7,"v":-0.1,"x":56.5,"y":1783},{"g":7,"v":-0.1,"x":53.7,"y":1884},{"g":7,"v":-0.1,"x":49.1,"y":1859},{"g":7,"v":-0.1,"x":43.4,"y":1935},{"g":7,"v":-0.1,"x":42.9,"y":2112},{"g":7,"v":-0.1,"x":42.9,"y":2300},{"g":7,"v":-0.1,"x":40.2,"y":2300},{"g":7,"v":-0.1,"x":40.2,"y":2112},{"g":7,"v":-0.1,"x":39.9,"y":1555},{"g":7,"v":-0.1,"x":40.7,"y":1352},{"g":7,"v":-0.1,"x":39,"y":1149},{"g":7,"v":-0.1,"x":39.2,"y":870},{"g":7,"v":-0.1,"x":40.4,"y":1047},{"g":7,"v":-0.1,"x":41.3,"y":820},{"g":7,"v":-0.1,"x":42.5,"y":1047},{"g":7,"v":-0.1,"x":42.7,"y":500},{"g":7,"v":-0.1,"x":42.9,"y":255},{"g":7,"v":-0.1,"x":42.5,"y":144},{"g":7,"v":-0.1,"x":41.6,"y":100},
{"g":8,"v":-0.1,"x":41.1,"y":403},{"g":8,"v":-0.1,"x":41.6,"y":259},{"g":8,"v":-0.1,"x":42.2,"y":403},
{"g":9,"v":-0.1,"x":40.4,"y":453},{"g":9,"v":-0.1,"x":41.4,"y":388},{"g":9,"v":-0.1,"x":42.3,"y":500},{"g":9,"v":-0.1,"x":40.8,"y":500},{"g":9,"v":-0.1,"x":40.4,"y":453},
{"g":10,"v":-0.1,"x":38.1,"y":500},{"g":10,"v":-0.1,"x":38.3,"y":292},{"g":10,"v":-0.1,"x":39.7,"y":322},{"g":10,"v":-0.1,"x":39,"y":500},
{"g":11,"v":-0.1,"x":38.1,"y":500},{"g":11,"v":-0.1,"x":39.7,"y":845},{"g":11,"v":-0.1,"x":39.5,"y":500},
{"g":12,"v":-0.1,"x":46,"y":274},{"g":12,"v":-0.1,"x":46.4,"y":274},
{"g":13,"v":0.1,"x":48.1,"y":275},{"g":13,"v":0.1,"x":49.1,"y":264},{"g":13,"v":0.1,"x":50.4,"y":275},{"g":13,"v":0.1,"x":49.1,"y":288},{"g":13,"v":0.1,"x":48.1,"y":275},
{"g":14,"v":0.1,"x":48.1,"y":323},{"g":14,"v":0.1,"x":49.1,"y":313},{"g":14,"v":0.1,"x":50.3,"y":323},{"g":14,"v":0.1,"x":49.1,"y":335},{"g":14,"v":0.1,"x":48.1,"y":323},
{"g":15,"v":-0.1,"x":49.6,"y":233},{"g":15,"v":-0.1,"x":50.6,"y":200},{"g":15,"v":-0.1,"x":51.2,"y":218},{"g":15,"v":-0.1,"x":50.3,"y":248},{"g":15,"v":-0.1,"x":49.6,"y":233},
{"g":16,"v":-0.1,"x":47.3,"y":122},{"g":16,"v":-0.1,"x":48.5,"y":100},{"g":16,"v":-0.1,"x":49.6,"y":70},{"g":16,"v":-0.1,"x":49.6,"y":2},{"g":16,"v":-0.1,"x":50,"y":7},{"g":16,"v":-0.1,"x":50.1,"y":144},{"g":16,"v":-0.1,"x":49.1,"y":167},{"g":16,"v":-0.1,"x":46.4,"y":167},{"g":16,"v":-0.1,"x":46.4,"y":144},{"g":16,"v":-0.1,"x":47.3,"y":122},
{"g":17,"v":0.3,"x":46.6,"y":52},{"g":17,"v":0.3,"x":47.7,"y":39},{"g":17,"v":0.3,"x":48.8,"y":50},{"g":17,"v":0.3,"x":47.7,"y":63},{"g":17,"v":0.3,"x":46.6,"y":52},
{"g":18,"v":-0.1,"x":47.8,"y":100},{"g":18,"v":-0.1,"x":48.9,"y":91},{"g":18,"v":-0.1,"x":49.8,"y":96},{"g":18,"v":-0.1,"x":48.7,"y":111},{"g":18,"v":-0.1,"x":47.8,"y":100},
{"g":19,"v":0.1,"x":51.5,"y":70},{"g":19,"v":0.1,"x":51.5,"y":111},
{"g":20,"v":0.1,"x":53.9,"y":141},{"g":20,"v":0.1,"x":54.9,"y":131},{"g":20,"v":0.1,"x":55.8,"y":141},{"g":20,"v":0.1,"x":54.9,"y":150},{"g":20,"v":0.1,"x":53.9,"y":141},
{"g":21,"v":0.1,"x":53.9,"y":190},{"g":21,"v":0.1,"x":54.9,"y":180},{"g":21,"v":0.1,"x":55.8,"y":190},{"g":21,"v":0.1,"x":54.9,"y":200},{"g":21,"v":0.1,"x":53.9,"y":190},
{"g":22,"v":0.1,"x":55.8,"y":107},{"g":22,"v":0.1,"x":55.8,"y":255},
{"g":23,"v":-0.1,"x":57.8,"y":207},{"g":23,"v":-0.1,"x":59.5,"y":207},{"g":23,"v":-0.1,"x":59.5,"y":241},{"g":23,"v":-0.1,"x":59,"y":263},{"g":23,"v":-0.1,"x":58.3,"y":241},{"g":23,"v":-0.1,"x":57.8,"y":207},
{"g":24,"v":0.1,"x":58.3,"y":291},{"g":24,"v":0.1,"x":59.3,"y":280},{"g":24,"v":0.1,"x":60.5,"y":291},{"g":24,"v":0.1,"x":59.3,"y":302},{"g":24,"v":0.1,"x":58.3,"y":291},
{"g":25,"v":0.1,"x":59.2,"y":338},{"g":25,"v":0.1,"x":60.3,"y":326},{"g":25,"v":0.1,"x":61.3,"y":337},{"g":25,"v":0.1,"x":60.2,"y":350},{"g":25,"v":0.1,"x":59.2,"y":338},
{"g":26,"v":-0.3,"x":56.3,"y":60},{"g":26,"v":-0.3,"x":57.9,"y":86},{"g":26,"v":-0.3,"x":59.2,"y":134},{"g":26,"v":-0.3,"x":60.4,"y":157},{"g":26,"v":-0.3,"x":62,"y":149},{"g":26,"v":-0.3,"x":62.7,"y":94},{"g":26,"v":-0.3,"x":65.5,"y":94},{"g":26,"v":-0.3,"x":65.5,"y":205},{"g":26,"v":-0.3,"x":65,"y":205},{"g":26,"v":-0.3,"x":63.8,"y":182},{"g":26,"v":-0.3,"x":62.9,"y":116},{"g":26,"v":-0.3,"x":62,"y":131},{"g":26,"v":-0.3,"x":60.4,"y":131},{"g":26,"v":-0.3,"x":58.8,"y":101},{"g":26,"v":-0.3,"x":56.9,"y":57},
{"g":27,"v":-0.1,"x":32.1,"y":1174},{"g":27,"v":-0.1,"x":32.6,"y":1130},{"g":27,"v":-0.1,"x":33,"y":1174},{"g":27,"v":-0.1,"x":32.5,"y":1240},{"g":27,"v":-0.1,"x":32.1,"y":1174},
{"g":28,"v":-0.1,"x":31.6,"y":1808},{"g":28,"v":-0.1,"x":32.4,"y":1554},{"g":28,"v":-0.1,"x":32.8,"y":1859},{"g":28,"v":-0.1,"x":31.8,"y":1884},{"g":28,"v":-0.1,"x":31.6,"y":1808},
{"g":29,"v":-0.1,"x":29.6,"y":1640},{"g":29,"v":-0.1,"x":31,"y":1640},
{"g":30,"v":-0.1,"x":36.3,"y":1190},{"g":30,"v":-0.1,"x":36.7,"y":1190},
{"g":31,"v":-0.1,"x":38.6,"y":1150},{"g":31,"v":-0.1,"x":38.6,"y":1500},
{"g":32,"v":-0.1,"x":38.2,"y":2010},{"g":32,"v":-0.1,"x":38.4,"y":1735},{"g":32,"v":-0.1,"x":39,"y":2010},{"g":32,"v":-0.1,"x":38.8,"y":2120},{"g":32,"v":-0.1,"x":38.2,"y":2010},
{"g":33,"v":0.1,"x":45.2,"y":1392},{"g":33,"v":0.1,"x":46.6,"y":1392},
{"g":34,"v":-0.1,"x":-11,"y":1380},{"g":34,"v":-0.1,"x":-8.5,"y":1220},{"g":34,"v":-0.1,"x":-6,"y":1150},{"g":34,"v":-0.1,"x":-1.4,"y":1150},{"g":34,"v":-0.1,"x":4.8,"y":1150},{"g":34,"v":-0.1,"x":7,"y":1300},{"g":34,"v":-0.1,"x":8.8,"y":1380},{"g":34,"v":-0.1,"x":6,"y":1530},{"g":34,"v":-0.1,"x":2.5,"y":1640},{"g":34,"v":-0.1,"x":0.5,"y":1600},{"g":34,"v":-0.1,"x":-1.5,"y":1610},{"g":34,"v":-0.1,"x":-2.2,"y":1690},{"g":34,"v":-0.1,"x":-5.5,"y":1700},{"g":34,"v":-0.1,"x":-9,"y":1530},{"g":34,"v":-0.1,"x":-11,"y":1380},
{"g":35,"v":-0.1,"x":-31,"y":1550},{"g":35,"v":-0.1,"x":-29.2,"y":1400},{"g":35,"v":-0.1,"x":-28,"y":1400},{"g":35,"v":-0.1,"x":-28.2,"y":1580},{"g":35,"v":-0.1,"x":-29.8,"y":1640},{"g":35,"v":-0.1,"x":-31,"y":1550},
{"g":36,"v":-0.1,"x":-22.5,"y":1580},{"g":36,"v":-0.1,"x":-21.9,"y":1410},{"g":36,"v":-0.1,"x":-19.5,"y":1390},{"g":36,"v":-0.1,"x":-18.2,"y":1420},{"g":36,"v":-0.1,"x":-18.8,"y":1600},{"g":36,"v":-0.1,"x":-22.5,"y":1580},
{"g":37,"v":-0.1,"x":-16.8,"y":1400},{"g":37,"v":-0.1,"x":-14.8,"y":1400},
{"g":38,"v":-0.1,"x":-24.8,"y":1400},{"g":38,"v":-0.1,"x":-23.6,"y":1420},
{"g":39,"v":-0.1,"x":-34.2,"y":510},{"g":39,"v":-0.1,"x":-32.2,"y":565},{"g":39,"v":-0.1,"x":-30.5,"y":515},
{"g":40,"v":-0.1,"x":-13.1,"y":515},{"g":40,"v":-0.1,"x":-11,"y":660},{"g":40,"v":-0.1,"x":-6.9,"y":660},{"g":40,"v":-0.1,"x":-5.5,"y":541},
{"g":41,"v":-0.1,"x":4.8,"y":500},{"g":41,"v":-0.1,"x":12.4,"y":700},{"g":41,"v":-0.1,"x":14.2,"y":760},{"g":41,"v":-0.1,"x":15,"y":650},{"g":41,"v":-0.1,"x":15,"y":500},
{"g":42,"v":-0.1,"x":18.2,"y":500},{"g":42,"v":-0.1,"x":20,"y":580},{"g":42,"v":-0.1,"x":22,"y":560},{"g":42,"v":-0.1,"x":23,"y":500}
],
"pa":[{"x":-26,"x2":-18,"y":50,"y2":82,"v":0.1},{"x":26.6,"x2":34,"y":50,"y2":74,"v":0.1},{"x":13.6,"x2":22.5,"y":3,"y2":30,"v":-0.1}],
"pc":[{"x":-13.9,"x2":-9,"y":172,"y2":208,"v":-0.1},{"x":26.6,"x2":34,"y":48,"y2":70,"v":0.1},{"x":13.6,"x2":22.5,"y":3,"y2":28,"v":-0.1}],
"pd":[{"x":21,"x2":27,"y":72,"y2":100,"v":-0.1}],
"la":[{"x":-21.7,"y":88,"t":"0.0","a":-8},{"x":18.5,"y":40,"t":"0.07","a":0},{"x":30.7,"y":80,"t":"0.0","a":0}],
"lc":[{"x":-13.5,"y":32,"t":"0.0","a":0},{"x":-11.8,"y":175,"t":"0.0","a":25},{"x":18.5,"y":38,"t":"0.07","a":0},{"x":30.7,"y":78,"t":"0.0","a":0}],
"lb":[{"x":3.4,"y":27,"t":"0.5","a":0},{"x":62.3,"y":78,"t":"0.0","a":-60}],
"ld":[{"x":3.4,"y":27,"t":"0.5","a":0},{"x":62.3,"y":66,"t":"0.0","a":-60},{"x":24.6,"y":95,"t":"0.0","a":10}],
"ra":[{"x":-46.5,"y":-55,"t":"(a)"}],"rb":[{"x":-45.5,"y":-55,"t":"(b)"}],"rc":[{"x":-45.8,"y":-55,"t":"(c)"}],"rd":[{"x":-45.3,"y":-55,"t":"(d)"}],
"tt":[{"x":15,"y":-33,"t":"Temperature bias"}],"ts":[{"x":15,"y":-33,"t":"Salinity bias"}],
"gr":[{"y":250},{"y":1000},{"y":2000}],"sp":[{"y":500}],
"fr":[{"x":-35,"x2":65,"y":0,"y2":2150}],
"sl":[{"x":-35,"x2":-34.5,"y":0,"y2":2150},{"x":64.7,"x2":65,"y":0,"y2":2150}],
"ct":[{"a":-1,"b":-0.8,"v":-0.9},{"a":-0.8,"b":-0.6,"v":-0.7},{"a":-0.6,"b":-0.4,"v":-0.5},{"a":-0.4,"b":-0.2,"v":-0.3},{"a":-0.2,"b":0,"v":-0.1},{"a":0,"b":0.2,"v":0.1},{"a":0.2,"b":0.4,"v":0.3},{"a":0.4,"b":0.6,"v":0.5},{"a":0.6,"b":0.8,"v":0.7},{"a":0.8,"b":1,"v":0.9},{"a":1,"b":1.2,"v":1.1},{"a":1.2,"b":1.4,"v":1.3},{"a":1.4,"b":1.6,"v":1.5},{"a":1.6,"b":1.8,"v":1.7}],
"cs":[{"a":-0.6,"b":-0.4,"v":-0.5},{"a":-0.4,"b":-0.2,"v":-0.3},{"a":-0.2,"b":0,"v":-0.1},{"a":0,"b":0.2,"v":0.1},{"a":0.2,"b":0.4,"v":0.3},{"a":0.4,"b":0.6,"v":0.5},{"a":0.6,"b":0.8,"v":0.7},{"a":0.8,"b":1,"v":0.9}],
"tu":[{"a":1.88,"v":1.7}],"td1":[{"a":-1.055,"v":-0.9}],"su":[{"a":1.043,"v":0.9}],"sd":[{"a":-0.631,"v":-0.7}],
"ft":[{"a":-1,"b":1.8}],"fs":[{"a":-0.6,"b":1}],"e":[{"t":""}]
},
"bounds":"flush","columns":5,"spacing":{"row":102,"column":46},
"concat":[
{"width":726,"height":333,"resolve":{"scale":{"fill":"independent"}},"encoding":{"x":{"field":"x","type":"quantitative","scale":{"domain":[-35,65],"nice":false},"axis":{"values":[-30,0,30,60],"labels":false,"title":null,"grid":false,"tickSize":10,"tickWidth":2,"tickColor":"black","domain":false}},"y":{"field":"y","type":"quantitative","scale":{"type":"linear","domain":[0,500,2150],"range":[0,225.5,333],"nice":false},"axis":{"values":[250,500,1000,2000],"format":"d","grid":false,"title":"Depth","titleFontSize":32,"titleFontWeight":"normal","titleX":-97,"titleY":113,"labelFontSize":31,"labelColor":"black","labelOffset":{"condition":{"test":"datum.value==500","value":-22},"value":0},"tickSize":10,"tickWidth":2,"tickColor":"black","domain":false}},"fill":{"field":"v","type":"quantitative","legend":null,"scale":{"type":"threshold","domain":[-0.8,-0.6,-0.4,-0.2,0,0.2,0.4,0.6,0.8,1,1.2,1.4,1.6],"range":["#f4fafd","#c6e3f2","#86c1e6","#5a9bd0","#4f8fa8","#4fa66e","#6bb84e","#b8cf56","#e0cd58","#f39a35","#ec6c2a","#df4526","#cb2d26","#a6231f"]}},"detail":{"field":"g"}},"layer":[
{"data":{"name":"bt"},"mark":{"type":"rect"},"encoding":{"detail":null,"x2":{"field":"x2"},"y2":{"field":"y2"}}},
{"data":{"name":"w"},"mark":{"type":"line","clip":true,"stroke":null,"strokeWidth":0},"encoding":{"order":{"value":null}}},
{"data":{"name":"ua"},"mark":{"type":"line","clip":true,"stroke":null,"strokeWidth":0},"encoding":{"order":{"value":null}}},
{"data":{"name":"ta"},"mark":{"type":"line","clip":true,"stroke":null,"strokeWidth":0},"encoding":{"order":{"value":null}}},
{"data":{"name":"k"},"mark":{"type":"line","clip":true,"stroke":null,"strokeWidth":0},"encoding":{"order":{"value":null}}},
{"data":{"name":"ta"},"mark":{"type":"line","clip":true,"stroke":"black","strokeWidth":3,"strokeJoin":"round","strokeCap":"round"},"encoding":{"fill":null,"order":{"value":null}}},
{"data":{"name":"gr"},"mark":{"type":"rule","color":"#b8b8b8","strokeWidth":2},"encoding":{"x":null,"fill":null,"detail":null}},
{"data":{"name":"sp"},"mark":{"type":"rule","color":"#3a3a3a","strokeWidth":3.5},"encoding":{"x":null,"fill":null,"detail":null}},
{"data":{"name":"pa"},"mark":{"type":"rect"},"encoding":{"detail":null,"x2":{"field":"x2"},"y2":{"field":"y2"}}},
{"data":{"name":"la"},"mark":{"type":"text","fontSize":25,"baseline":"alphabetic"},"encoding":{"fill":null,"detail":null,"color":{"value":"black"},"text":{"field":"t"},"angle":{"field":"a","type":"quantitative","scale":null}}},
{"data":{"name":"sl"},"mark":{"type":"rect","color":"white"},"encoding":{"fill":null,"detail":null,"x2":{"field":"x2"},"y2":{"field":"y2"}}},
{"data":{"name":"fr"},"mark":{"type":"rect","filled":false,"stroke":"#4d4d4d","strokeWidth":3.5},"encoding":{"fill":null,"detail":null,"x2":{"field":"x2"},"y2":{"field":"y2"}}},
{"data":{"name":"ra"},"mark":{"type":"text","font":"Liberation Sans","fontSize":37,"align":"left","baseline":"alphabetic"},"encoding":{"fill":null,"detail":null,"color":{"value":"black"},"text":{"field":"t"}}},
{"data":{"name":"tt"},"mark":{"type":"text","fontSize":32,"baseline":"alphabetic"},"encoding":{"fill":null,"detail":null,"color":{"value":"black"},"text":{"field":"t"}}}
]},
{"width":11,"height":333,"resolve":{"scale":{"fill":"independent"}},"encoding":{"y":{"field":"a","type":"quantitative","scale":{"domain":[-1.822,2.74],"nice":false},"axis":{"orient":"right","values":[-0.8,-0.4,0,0.4,0.8,1.2,1.6],"format":".1f","labelFontSize":21,"labelFontWeight":"bold","labelColor":"black","labelPadding":9,"title":"°C","titleAngle":-90,"titleFontSize":22,"titleFontWeight":"bold","titlePadding":34,"titleY":152,"domain":false,"grid":false,"tickSize":8,"tickWidth":2,"tickColor":"black"}},"fill":{"field":"v","type":"quantitative","legend":null,"scale":{"type":"threshold","domain":[-0.8,-0.6,-0.4,-0.2,0,0.2,0.4,0.6,0.8,1,1.2,1.4,1.6],"range":["#f4fafd","#c6e3f2","#86c1e6","#5a9bd0","#4f8fa8","#4fa66e","#6bb84e","#b8cf56","#e0cd58","#f39a35","#ec6c2a","#df4526","#cb2d26","#a6231f"]}}},"layer":[
{"data":{"name":"ct"},"mark":"rect","encoding":{"y2":{"field":"b"}}},
{"data":{"name":"tu"},"mark":{"type":"point","filled":true,"shape":"M-0.5,0.36 L0.5,0.36 L0,-0.36 Z","size":121,"stroke":"#333","strokeWidth":1,"opacity":1}},
{"data":{"name":"td1"},"mark":{"type":"point","filled":true,"shape":"M-0.5,-0.36 L0.5,-0.36 L0,0.36 Z","size":121,"stroke":"#333","strokeWidth":1,"opacity":1}},
{"data":{"name":"ft"},"mark":{"type":"rect","filled":false,"stroke":"#333","strokeWidth":1.5},"encoding":{"fill":null,"y2":{"field":"b"}}}
]},
{"width":154,"height":333,"data":{"name":"e"},"mark":{"type":"text"},"encoding":{"text":{"field":"t"}}},
{"width":726,"height":333,"resolve":{"scale":{"fill":"independent"}},"encoding":{"x":{"field":"x","type":"quantitative","scale":{"domain":[-35,65],"nice":false},"axis":{"values":[-30,0,30,60],"labels":false,"title":null,"grid":false,"tickSize":10,"tickWidth":2,"tickColor":"black","domain":false}},"y":{"field":"y","type":"quantitative","scale":{"type":"linear","domain":[0,500,2150],"range":[0,225.5,333],"nice":false},"axis":{"values":[250,500,1000,2000],"labels":false,"grid":false,"title":null,"tickSize":10,"tickWidth":2,"tickColor":"black","domain":false}},"fill":{"field":"v","type":"quantitative","legend":null,"scale":{"type":"threshold","domain":[-0.6,-0.4,-0.2,0,0.2,0.4,0.6,0.8],"range":["#ffffff","#cfe8f7","#7fbfe6","#4c8fb0","#5bb553","#e5d85f","#f18a35","#d93a26","#b02a28"]}},"detail":{"field":"g"}},"layer":[
{"data":{"name":"bs"},"mark":{"type":"rect"},"encoding":{"detail":null,"x2":{"field":"x2"},"y2":{"field":"y2"}}},
{"data":{"name":"gb"},"mark":{"type":"line","clip":true,"stroke":null,"strokeWidth":0},"encoding":{"order":{"value":null}}},
{"data":{"name":"sh"},"mark":{"type":"line","clip":true,"stroke":null,"strokeWidth":0},"encoding":{"order":{"value":null}}},
{"data":{"name":"ub"},"mark":{"type":"line","clip":true,"stroke":null,"strokeWidth":0},"encoding":{"order":{"value":null}}},
{"data":{"name":"tb"},"mark":{"type":"line","clip":true,"stroke":null,"strokeWidth":0},"encoding":{"order":{"value":null}}},
{"data":{"name":"gb"},"mark":{"type":"line","clip":true,"stroke":"black","strokeWidth":3,"strokeJoin":"round","strokeCap":"round"},"encoding":{"fill":null,"order":{"value":null}}},
{"data":{"name":"tb"},"mark":{"type":"line","clip":true,"stroke":"black","strokeWidth":3,"strokeJoin":"round","strokeCap":"round"},"encoding":{"fill":null,"order":{"value":null}}},
{"data":{"name":"gr"},"mark":{"type":"rule","color":"#b8b8b8","strokeWidth":2},"encoding":{"x":null,"fill":null,"detail":null}},
{"data":{"name":"sp"},"mark":{"type":"rule","color":"#3a3a3a","strokeWidth":3.5},"encoding":{"x":null,"fill":null,"detail":null}},
{"data":{"name":"lb"},"mark":{"type":"text","fontSize":25,"baseline":"alphabetic"},"encoding":{"fill":null,"detail":null,"color":{"value":"black"},"text":{"field":"t"},"angle":{"field":"a","type":"quantitative","scale":null}}},
{"data":{"name":"sl"},"mark":{"type":"rect","color":"white"},"encoding":{"fill":null,"detail":null,"x2":{"field":"x2"},"y2":{"field":"y2"}}},
{"data":{"name":"fr"},"mark":{"type":"rect","filled":false,"stroke":"#4d4d4d","strokeWidth":3.5},"encoding":{"fill":null,"detail":null,"x2":{"field":"x2"},"y2":{"field":"y2"}}},
{"data":{"name":"rb"},"mark":{"type":"text","font":"Liberation Sans","fontSize":37,"align":"left","baseline":"alphabetic"},"encoding":{"fill":null,"detail":null,"color":{"value":"black"},"text":{"field":"t"}}},
{"data":{"name":"ts"},"mark":{"type":"text","fontSize":32,"baseline":"alphabetic"},"encoding":{"fill":null,"detail":null,"color":{"value":"black"},"text":{"field":"t"}}}
]},
{"width":11,"height":333,"resolve":{"scale":{"fill":"independent"}},"encoding":{"y":{"field":"a","type":"quantitative","scale":{"domain":[-1.07,1.53],"nice":false},"axis":{"orient":"right","values":[-0.6,-0.4,-0.2,0,0.2,0.4,0.6,0.8,1],"format":".1f","labelFontSize":21,"labelFontWeight":"bold","labelColor":"black","labelPadding":9,"title":"psu","titleAngle":-90,"titleFontSize":22,"titleFontWeight":"bold","titlePadding":39,"titleY":170,"domain":false,"grid":false,"tickSize":8,"tickWidth":2,"tickColor":"black"}},"fill":{"field":"v","type":"quantitative","legend":null,"scale":{"type":"threshold","domain":[-0.6,-0.4,-0.2,0,0.2,0.4,0.6,0.8],"range":["#ffffff","#cfe8f7","#7fbfe6","#4c8fb0","#5bb553","#e5d85f","#f18a35","#d93a26","#b02a28"]}}},"layer":[
{"data":{"name":"cs"},"mark":"rect","encoding":{"y2":{"field":"b"}}},
{"data":{"name":"su"},"mark":{"type":"point","filled":true,"shape":"M-0.5,0.36 L0.5,0.36 L0,-0.36 Z","size":121,"stroke":"#333","strokeWidth":1,"opacity":1}},
{"data":{"name":"sd"},"mark":{"type":"point","filled":true,"shape":"M-0.5,-0.36 L0.5,-0.36 L0,0.36 Z","size":121,"stroke":"#333","strokeWidth":1,"opacity":1}},
{"data":{"name":"fs"},"mark":{"type":"rect","filled":false,"stroke":"#333","strokeWidth":1.5},"encoding":{"fill":null,"y2":{"field":"b"}}}
]},
{"width":726,"height":334,"resolve":{"scale":{"fill":"independent"}},"encoding":{"x":{"field":"x","type":"quantitative","scale":{"domain":[-35,65],"nice":false},"axis":{"values":[-30,0,30,60],"labelExpr":"datum.value<0?(-datum.value)+'°S':(datum.value==0?'0°':datum.value+'°N')","labelFontSize":32,"labelColor":"black","labelPadding":6,"title":"Latitude","titleFontSize":33,"titleFontWeight":"normal","titlePadding":8,"grid":false,"tickSize":10,"tickWidth":2,"tickColor":"black","domain":false}},"y":{"field":"y","type":"quantitative","scale":{"type":"linear","domain":[0,500,2150],"range":[0,225.5,334],"nice":false},"axis":{"values":[250,500,1000,2000],"format":"d","grid":false,"title":"Depth","titleFontSize":32,"titleFontWeight":"normal","titleX":-97,"titleY":111,"labelFontSize":31,"labelColor":"black","labelOffset":{"condition":{"test":"datum.value==500","value":-22},"value":0},"tickSize":10,"tickWidth":2,"tickColor":"black","domain":false}},"fill":{"field":"v","type":"quantitative","legend":null,"scale":{"type":"threshold","domain":[-0.8,-0.6,-0.4,-0.2,0,0.2,0.4,0.6,0.8,1,1.2,1.4,1.6],"range":["#f4fafd","#c6e3f2","#86c1e6","#5a9bd0","#4f8fa8","#4fa66e","#6bb84e","#b8cf56","#e0cd58","#f39a35","#ec6c2a","#df4526","#cb2d26","#a6231f"]}},"detail":{"field":"g"}},"layer":[
{"data":{"name":"bt"},"mark":{"type":"rect"},"encoding":{"detail":null,"x2":{"field":"x2"},"y2":{"field":"y2"}}},
{"data":{"name":"w"},"mark":{"type":"line","clip":true,"stroke":null,"strokeWidth":0},"encoding":{"order":{"value":null}}},
{"data":{"name":"uc"},"mark":{"type":"line","clip":true,"stroke":null,"strokeWidth":0},"encoding":{"order":{"value":null}}},
{"data":{"name":"tc"},"mark":{"type":"line","clip":true,"stroke":null,"strokeWidth":0},"encoding":{"order":{"value":null}}},
{"data":{"name":"k"},"mark":{"type":"line","clip":true,"stroke":null,"strokeWidth":0},"encoding":{"order":{"value":null}}},
{"data":{"name":"tc"},"mark":{"type":"line","clip":true,"stroke":"black","strokeWidth":3,"strokeJoin":"round","strokeCap":"round"},"encoding":{"fill":null,"order":{"value":null}}},
{"data":{"name":"gr"},"mark":{"type":"rule","color":"#b8b8b8","strokeWidth":2},"encoding":{"x":null,"fill":null,"detail":null}},
{"data":{"name":"sp"},"mark":{"type":"rule","color":"#3a3a3a","strokeWidth":3.5},"encoding":{"x":null,"fill":null,"detail":null}},
{"data":{"name":"pc"},"mark":{"type":"rect"},"encoding":{"detail":null,"x2":{"field":"x2"},"y2":{"field":"y2"}}},
{"data":{"name":"lc"},"mark":{"type":"text","fontSize":25,"baseline":"alphabetic"},"encoding":{"fill":null,"detail":null,"color":{"value":"black"},"text":{"field":"t"},"angle":{"field":"a","type":"quantitative","scale":null}}},
{"data":{"name":"sl"},"mark":{"type":"rect","color":"white"},"encoding":{"fill":null,"detail":null,"x2":{"field":"x2"},"y2":{"field":"y2"}}},
{"data":{"name":"fr"},"mark":{"type":"rect","filled":false,"stroke":"#4d4d4d","strokeWidth":3.5},"encoding":{"fill":null,"detail":null,"x2":{"field":"x2"},"y2":{"field":"y2"}}},
{"data":{"name":"rc"},"mark":{"type":"text","font":"Liberation Sans","fontSize":37,"align":"left","baseline":"alphabetic"},"encoding":{"fill":null,"detail":null,"color":{"value":"black"},"text":{"field":"t"}}}
]},
{"width":11,"height":334,"resolve":{"scale":{"fill":"independent"}},"encoding":{"y":{"field":"a","type":"quantitative","scale":{"domain":[-1.877,2.70],"nice":false},"axis":{"orient":"right","values":[-0.8,-0.4,0,0.4,0.8,1.2,1.6],"format":".1f","labelFontSize":21,"labelFontWeight":"bold","labelColor":"black","labelPadding":9,"title":"°C","titleAngle":-90,"titleFontSize":22,"titleFontWeight":"bold","titlePadding":34,"titleY":175,"domain":false,"grid":false,"tickSize":8,"tickWidth":2,"tickColor":"black"}},"fill":{"field":"v","type":"quantitative","legend":null,"scale":{"type":"threshold","domain":[-0.8,-0.6,-0.4,-0.2,0,0.2,0.4,0.6,0.8,1,1.2,1.4,1.6],"range":["#f4fafd","#c6e3f2","#86c1e6","#5a9bd0","#4f8fa8","#4fa66e","#6bb84e","#b8cf56","#e0cd58","#f39a35","#ec6c2a","#df4526","#cb2d26","#a6231f"]}}},"layer":[
{"data":{"name":"ct"},"mark":"rect","encoding":{"y2":{"field":"b"}}},
{"data":{"name":"tu"},"mark":{"type":"point","filled":true,"shape":"M-0.5,0.36 L0.5,0.36 L0,-0.36 Z","size":121,"stroke":"#333","strokeWidth":1,"opacity":1}},
{"data":{"name":"td1"},"mark":{"type":"point","filled":true,"shape":"M-0.5,-0.36 L0.5,-0.36 L0,0.36 Z","size":121,"stroke":"#333","strokeWidth":1,"opacity":1}},
{"data":{"name":"ft"},"mark":{"type":"rect","filled":false,"stroke":"#333","strokeWidth":1.5},"encoding":{"fill":null,"y2":{"field":"b"}}}
]},
{"width":154,"height":334,"data":{"name":"e"},"mark":{"type":"text"},"encoding":{"text":{"field":"t"}}},
{"width":726,"height":334,"resolve":{"scale":{"fill":"independent"}},"encoding":{"x":{"field":"x","type":"quantitative","scale":{"domain":[-35,65],"nice":false},"axis":{"values":[-30,0,30,60],"labelExpr":"datum.value<0?(-datum.value)+'°S':(datum.value==0?'0°':datum.value+'°N')","labelFontSize":32,"labelColor":"black","labelPadding":6,"title":"Latitude","titleFontSize":33,"titleFontWeight":"normal","titlePadding":8,"grid":false,"tickSize":10,"tickWidth":2,"tickColor":"black","domain":false}},"y":{"field":"y","type":"quantitative","scale":{"type":"linear","domain":[0,500,2150],"range":[0,225.5,334],"nice":false},"axis":{"values":[250,500,1000,2000],"labels":false,"grid":false,"title":null,"tickSize":10,"tickWidth":2,"tickColor":"black","domain":false}},"fill":{"field":"v","type":"quantitative","legend":null,"scale":{"type":"threshold","domain":[-0.6,-0.4,-0.2,0,0.2,0.4,0.6,0.8],"range":["#ffffff","#cfe8f7","#7fbfe6","#4c8fb0","#5bb553","#e5d85f","#f18a35","#d93a26","#b02a28"]}},"detail":{"field":"g"}},"layer":[
{"data":{"name":"bs"},"mark":{"type":"rect"},"encoding":{"detail":null,"x2":{"field":"x2"},"y2":{"field":"y2"}}},
{"data":{"name":"gd"},"mark":{"type":"line","clip":true,"stroke":null,"strokeWidth":0},"encoding":{"order":{"value":null}}},
{"data":{"name":"sh"},"mark":{"type":"line","clip":true,"stroke":null,"strokeWidth":0},"encoding":{"order":{"value":null}}},
{"data":{"name":"ud"},"mark":{"type":"line","clip":true,"stroke":null,"strokeWidth":0},"encoding":{"order":{"value":null}}},
{"data":{"name":"td"},"mark":{"type":"line","clip":true,"stroke":null,"strokeWidth":0},"encoding":{"order":{"value":null}}},
{"data":{"name":"gd"},"mark":{"type":"line","clip":true,"stroke":"black","strokeWidth":3,"strokeJoin":"round","strokeCap":"round"},"encoding":{"fill":null,"order":{"value":null}}},
{"data":{"name":"td"},"mark":{"type":"line","clip":true,"stroke":"black","strokeWidth":3,"strokeJoin":"round","strokeCap":"round"},"encoding":{"fill":null,"order":{"value":null}}},
{"data":{"name":"gr"},"mark":{"type":"rule","color":"#b8b8b8","strokeWidth":2},"encoding":{"x":null,"fill":null,"detail":null}},
{"data":{"name":"sp"},"mark":{"type":"rule","color":"#3a3a3a","strokeWidth":3.5},"encoding":{"x":null,"fill":null,"detail":null}},
{"data":{"name":"pd"},"mark":{"type":"rect"},"encoding":{"detail":null,"x2":{"field":"x2"},"y2":{"field":"y2"}}},
{"data":{"name":"ld"},"mark":{"type":"text","fontSize":25,"baseline":"alphabetic"},"encoding":{"fill":null,"detail":null,"color":{"value":"black"},"text":{"field":"t"},"angle":{"field":"a","type":"quantitative","scale":null}}},
{"data":{"name":"sl"},"mark":{"type":"rect","color":"white"},"encoding":{"fill":null,"detail":null,"x2":{"field":"x2"},"y2":{"field":"y2"}}},
{"data":{"name":"fr"},"mark":{"type":"rect","filled":false,"stroke":"#4d4d4d","strokeWidth":3.5},"encoding":{"fill":null,"detail":null,"x2":{"field":"x2"},"y2":{"field":"y2"}}},
{"data":{"name":"rd"},"mark":{"type":"text","font":"Liberation Sans","fontSize":37,"align":"left","baseline":"alphabetic"},"encoding":{"fill":null,"detail":null,"color":{"value":"black"},"text":{"field":"t"}}}
]},
{"width":11,"height":334,"resolve":{"scale":{"fill":"independent"}},"encoding":{"y":{"field":"a","type":"quantitative","scale":{"domain":[-1.10,1.508],"nice":false},"axis":{"orient":"right","values":[-0.6,-0.4,-0.2,0,0.2,0.4,0.6,0.8,1],"format":".1f","labelFontSize":21,"labelFontWeight":"bold","labelColor":"black","labelPadding":9,"title":"psu","titleAngle":-90,"titleFontSize":22,"titleFontWeight":"bold","titlePadding":39,"titleY":167,"domain":false,"grid":false,"tickSize":8,"tickWidth":2,"tickColor":"black"}},"fill":{"field":"v","type":"quantitative","legend":null,"scale":{"type":"threshold","domain":[-0.6,-0.4,-0.2,0,0.2,0.4,0.6,0.8],"range":["#ffffff","#cfe8f7","#7fbfe6","#4c8fb0","#5bb553","#e5d85f","#f18a35","#d93a26","#b02a28"]}}},"layer":[
{"data":{"name":"cs"},"mark":"rect","encoding":{"y2":{"field":"b"}}},
{"data":{"name":"su"},"mark":{"type":"point","filled":true,"shape":"M-0.5,0.36 L0.5,0.36 L0,-0.36 Z","size":121,"stroke":"#333","strokeWidth":1,"opacity":1}},
{"data":{"name":"sd"},"mark":{"type":"point","filled":true,"shape":"M-0.5,-0.36 L0.5,-0.36 L0,0.36 Z","size":121,"stroke":"#333","strokeWidth":1,"opacity":1}},
{"data":{"name":"fs"},"mark":{"type":"rect","filled":false,"stroke":"#333","strokeWidth":1.5},"encoding":{"fill":null,"y2":{"field":"b"}}}
]}
]}
